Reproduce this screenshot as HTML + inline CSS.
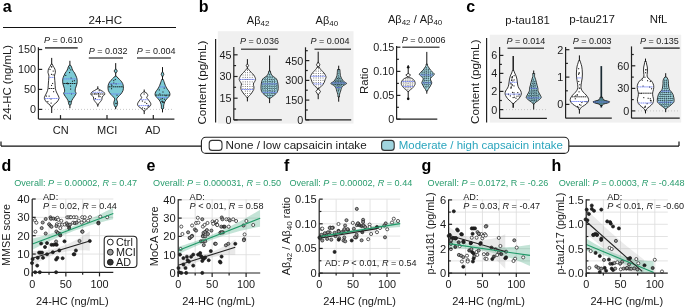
<!DOCTYPE html>
<html><head><meta charset="utf-8"><style>
html,body{margin:0;padding:0;background:#fff;width:685px;height:307px;overflow:hidden}
svg{display:block}
text{font-family:"Liberation Sans",sans-serif}
svg{will-change:transform}
</style></head><body>
<svg width="685" height="307" viewBox="0 0 685 307">
<rect width="685" height="307" fill="#fff"/>
<text x="2.8" y="12.2" font-size="16" text-anchor="start" fill="#000" font-weight="bold">a</text>
<text x="198.8" y="12.4" font-size="16" text-anchor="start" fill="#000" font-weight="bold">b</text>
<text x="466.2" y="12.4" font-size="16" text-anchor="start" fill="#000" font-weight="bold">c</text>
<text x="1.6" y="170.8" font-size="16" text-anchor="start" fill="#000" font-weight="bold">d</text>
<text x="146.4" y="170.8" font-size="16" text-anchor="start" fill="#000" font-weight="bold">e</text>
<text x="283.9" y="170.8" font-size="16" text-anchor="start" fill="#000" font-weight="bold">f</text>
<text x="421.4" y="170.8" font-size="16" text-anchor="start" fill="#000" font-weight="bold">g</text>
<text x="551.4" y="170.8" font-size="16" text-anchor="start" fill="#000" font-weight="bold">h</text>
<rect x="217.8" y="31.2" width="135.7" height="92.4" fill="#f0f0f0"/>
<rect x="489.8" y="34.7" width="191.4" height="87.9" fill="#f0f0f0"/>
<line x1="215.6" y1="39.1" x2="215.6" y2="122.6" stroke="#222" stroke-width="1.2"/>
<line x1="486.6" y1="38.1" x2="486.6" y2="122.6" stroke="#222" stroke-width="1.2"/>
<text x="88.6" y="23.5" font-size="11.6" text-anchor="start" fill="#1a1a1a">24-HC</text>
<line x1="3" y1="27.5" x2="176" y2="27.5" stroke="#111" stroke-width="1.2"/>
<text x="44" y="43.3" font-size="9" text-anchor="start" fill="#1a1a1a"><tspan font-style="italic">P</tspan> = 0.610</text>
<line x1="45" y1="47.9" x2="77.7" y2="47.9" stroke="#555" stroke-width="1.6"/>
<text x="88.8" y="54.3" font-size="9" text-anchor="start" fill="#1a1a1a"><tspan font-style="italic">P</tspan> = 0.032</text>
<line x1="88.8" y1="58" x2="123" y2="58" stroke="#555" stroke-width="1.6"/>
<text x="136.7" y="54.3" font-size="9" text-anchor="start" fill="#1a1a1a"><tspan font-style="italic">P</tspan> = 0.004</text>
<line x1="137" y1="58" x2="170.9" y2="58" stroke="#555" stroke-width="1.6"/>
<line x1="38.4" y1="47.2" x2="38.4" y2="119.1" stroke="#222" stroke-width="1.2"/>
<line x1="38.4" y1="49.5" x2="42.199999999999996" y2="49.5" stroke="#222" stroke-width="1.2"/>
<line x1="38.4" y1="69.4" x2="42.199999999999996" y2="69.4" stroke="#222" stroke-width="1.2"/>
<line x1="38.4" y1="89.4" x2="42.199999999999996" y2="89.4" stroke="#222" stroke-width="1.2"/>
<line x1="38.4" y1="109.4" x2="42.199999999999996" y2="109.4" stroke="#222" stroke-width="1.2"/>
<text x="36.1" y="53.45" font-size="10.8" text-anchor="end" fill="#1a1a1a">150</text>
<text x="36.1" y="73.35000000000001" font-size="10.8" text-anchor="end" fill="#1a1a1a">100</text>
<text x="36.1" y="93.35000000000001" font-size="10.8" text-anchor="end" fill="#1a1a1a">50</text>
<text x="36.1" y="113.35000000000001" font-size="10.8" text-anchor="end" fill="#1a1a1a">0</text>
<line x1="38.4" y1="119.1" x2="174.4" y2="119.1" stroke="#222" stroke-width="1.2"/>
<line x1="60.5" y1="119.1" x2="60.5" y2="115.1" stroke="#222" stroke-width="1.2"/>
<line x1="107" y1="119.1" x2="107" y2="115.1" stroke="#222" stroke-width="1.2"/>
<line x1="153.3" y1="119.1" x2="153.3" y2="115.1" stroke="#222" stroke-width="1.2"/>
<line x1="42" y1="109.4" x2="174" y2="109.4" stroke="#bbb" stroke-width="0.8" stroke-dasharray="1 2"/>
<text x="60.8" y="133.6" font-size="11" text-anchor="middle" fill="#1a1a1a">CN</text>
<text x="107.2" y="133.6" font-size="11" text-anchor="middle" fill="#1a1a1a">MCI</text>
<text x="152.8" y="133.6" font-size="11" text-anchor="middle" fill="#1a1a1a">AD</text>
<text x="11.4" y="120.2" font-size="11.4" text-anchor="start" fill="#1a1a1a" transform="rotate(-90 11.4 120.2)">24-HC (ng/mL)</text>
<text x="246.8" y="23.6" font-size="11" fill="#1a1a1a">Aβ<tspan font-size="8" dy="2">42</tspan></text>
<text x="315.6" y="23.6" font-size="11" fill="#1a1a1a">Aβ<tspan font-size="8" dy="2">40</tspan></text>
<text x="388" y="22.6" font-size="11" fill="#1a1a1a">Aβ<tspan font-size="8" dy="2">42</tspan><tspan dy="-2"> / Aβ</tspan><tspan font-size="8" dy="2">40</tspan></text>
<text x="206.4" y="124.5" font-size="11.6" text-anchor="start" fill="#1a1a1a" transform="rotate(-90 206.4 124.5)">Content (pg/mL)</text>
<text x="478.5" y="124.0" font-size="11.7" text-anchor="start" fill="#1a1a1a" transform="rotate(-90 478.5 124.0)">Content (pg/mL)</text>
<text x="367.6" y="93.9" font-size="11.4" text-anchor="start" fill="#1a1a1a" transform="rotate(-90 367.6 93.9)">Ratio</text>
<text x="240.1" y="44.3" font-size="9" text-anchor="start" fill="#1a1a1a"><tspan font-style="italic">P</tspan> = 0.036</text>
<line x1="241" y1="49.2" x2="277.6" y2="49.2" stroke="#555" stroke-width="1.6"/>
<text x="310.6" y="44.4" font-size="9" text-anchor="start" fill="#1a1a1a"><tspan font-style="italic">P</tspan> = 0.004</text>
<line x1="314.5" y1="49.3" x2="351" y2="49.3" stroke="#555" stroke-width="1.6"/>
<text x="401.8" y="43.4" font-size="9" text-anchor="start" fill="#1a1a1a"><tspan font-style="italic">P</tspan> = 0.0006</text>
<line x1="402.3" y1="47.3" x2="439.5" y2="47.3" stroke="#555" stroke-width="1.6"/>
<line x1="233.8" y1="47.1" x2="233.8" y2="119.9" stroke="#222" stroke-width="1.2"/>
<line x1="233.8" y1="54.8" x2="237.60000000000002" y2="54.8" stroke="#222" stroke-width="1.2"/>
<line x1="233.8" y1="76.5" x2="237.60000000000002" y2="76.5" stroke="#222" stroke-width="1.2"/>
<line x1="233.8" y1="98.2" x2="237.60000000000002" y2="98.2" stroke="#222" stroke-width="1.2"/>
<line x1="233.8" y1="119.9" x2="237.60000000000002" y2="119.9" stroke="#222" stroke-width="1.2"/>
<line x1="233.8" y1="65.6" x2="236.08" y2="65.6" stroke="#222" stroke-width="1.2"/>
<line x1="233.8" y1="87.3" x2="236.08" y2="87.3" stroke="#222" stroke-width="1.2"/>
<line x1="233.8" y1="109" x2="236.08" y2="109" stroke="#222" stroke-width="1.2"/>
<text x="231.5" y="58.75" font-size="10.8" text-anchor="end" fill="#1a1a1a">45</text>
<text x="231.5" y="80.45" font-size="10.8" text-anchor="end" fill="#1a1a1a">30</text>
<text x="231.5" y="102.15" font-size="10.8" text-anchor="end" fill="#1a1a1a">15</text>
<text x="231.5" y="123.85000000000001" font-size="10.8" text-anchor="end" fill="#1a1a1a">0</text>
<line x1="233.8" y1="119.9" x2="281.8" y2="119.9" stroke="#222" stroke-width="1.2"/>
<line x1="305.5" y1="47.3" x2="305.5" y2="119.9" stroke="#222" stroke-width="1.2"/>
<line x1="305.5" y1="60.6" x2="309.3" y2="60.6" stroke="#222" stroke-width="1.2"/>
<line x1="305.5" y1="80.4" x2="309.3" y2="80.4" stroke="#222" stroke-width="1.2"/>
<line x1="305.5" y1="100.1" x2="309.3" y2="100.1" stroke="#222" stroke-width="1.2"/>
<line x1="305.5" y1="119.9" x2="309.3" y2="119.9" stroke="#222" stroke-width="1.2"/>
<line x1="305.5" y1="50.7" x2="307.78" y2="50.7" stroke="#222" stroke-width="1.2"/>
<line x1="305.5" y1="70.5" x2="307.78" y2="70.5" stroke="#222" stroke-width="1.2"/>
<line x1="305.5" y1="90.2" x2="307.78" y2="90.2" stroke="#222" stroke-width="1.2"/>
<line x1="305.5" y1="110" x2="307.78" y2="110" stroke="#222" stroke-width="1.2"/>
<text x="303.2" y="64.55" font-size="10.8" text-anchor="end" fill="#1a1a1a">450</text>
<text x="303.2" y="84.35000000000001" font-size="10.8" text-anchor="end" fill="#1a1a1a">300</text>
<text x="303.2" y="104.05" font-size="10.8" text-anchor="end" fill="#1a1a1a">150</text>
<text x="303.2" y="123.85000000000001" font-size="10.8" text-anchor="end" fill="#1a1a1a">0</text>
<line x1="305.5" y1="119.9" x2="351.2" y2="119.9" stroke="#222" stroke-width="1.2"/>
<line x1="396.6" y1="45.9" x2="396.6" y2="119.2" stroke="#222" stroke-width="1.2"/>
<line x1="396.6" y1="47.2" x2="400.40000000000003" y2="47.2" stroke="#222" stroke-width="1.2"/>
<line x1="396.6" y1="71.4" x2="400.40000000000003" y2="71.4" stroke="#222" stroke-width="1.2"/>
<line x1="396.6" y1="95.4" x2="400.40000000000003" y2="95.4" stroke="#222" stroke-width="1.2"/>
<line x1="396.6" y1="119.2" x2="400.40000000000003" y2="119.2" stroke="#222" stroke-width="1.2"/>
<line x1="396.6" y1="59.3" x2="398.88" y2="59.3" stroke="#222" stroke-width="1.2"/>
<line x1="396.6" y1="83.4" x2="398.88" y2="83.4" stroke="#222" stroke-width="1.2"/>
<line x1="396.6" y1="107.3" x2="398.88" y2="107.3" stroke="#222" stroke-width="1.2"/>
<text x="394.3" y="51.150000000000006" font-size="10.8" text-anchor="end" fill="#1a1a1a">0.15</text>
<text x="394.3" y="75.35000000000001" font-size="10.8" text-anchor="end" fill="#1a1a1a">0.10</text>
<text x="394.3" y="99.35000000000001" font-size="10.8" text-anchor="end" fill="#1a1a1a">0.05</text>
<text x="394.3" y="123.15" font-size="10.8" text-anchor="end" fill="#1a1a1a">0</text>
<line x1="396.6" y1="119.2" x2="437.3" y2="119.2" stroke="#222" stroke-width="1.2"/>
<text x="505.3" y="23.5" font-size="11.3" text-anchor="start" fill="#1a1a1a">p-tau181</text>
<text x="569.2" y="22.9" font-size="11.6" text-anchor="start" fill="#1a1a1a">p-tau217</text>
<text x="649.7" y="22.9" font-size="11.4" text-anchor="start" fill="#1a1a1a">NfL</text>
<text x="506.4" y="44" font-size="9" text-anchor="start" fill="#1a1a1a"><tspan font-style="italic">P</tspan> = 0.014</text>
<line x1="507.5" y1="48.3" x2="544" y2="48.3" stroke="#555" stroke-width="1.6"/>
<text x="572.8" y="44.3" font-size="9" text-anchor="start" fill="#1a1a1a"><tspan font-style="italic">P</tspan> = 0.003</text>
<line x1="573.9" y1="48.1" x2="610.3" y2="48.1" stroke="#555" stroke-width="1.6"/>
<text x="639.9" y="44.3" font-size="9" text-anchor="start" fill="#1a1a1a"><tspan font-style="italic">P</tspan> = 0.135</text>
<line x1="643.3" y1="48.1" x2="679.7" y2="48.1" stroke="#555" stroke-width="1.6"/>
<line x1="499.6" y1="47" x2="499.6" y2="118.4" stroke="#222" stroke-width="1.2"/>
<line x1="499.6" y1="55.4" x2="503.40000000000003" y2="55.4" stroke="#222" stroke-width="1.2"/>
<line x1="499.6" y1="73.4" x2="503.40000000000003" y2="73.4" stroke="#222" stroke-width="1.2"/>
<line x1="499.6" y1="91.4" x2="503.40000000000003" y2="91.4" stroke="#222" stroke-width="1.2"/>
<line x1="499.6" y1="109.6" x2="503.40000000000003" y2="109.6" stroke="#222" stroke-width="1.2"/>
<line x1="499.6" y1="64.4" x2="501.88" y2="64.4" stroke="#222" stroke-width="1.2"/>
<line x1="499.6" y1="82.4" x2="501.88" y2="82.4" stroke="#222" stroke-width="1.2"/>
<line x1="499.6" y1="100.5" x2="501.88" y2="100.5" stroke="#222" stroke-width="1.2"/>
<text x="497.3" y="59.35" font-size="10.8" text-anchor="end" fill="#1a1a1a">6</text>
<text x="497.3" y="77.35000000000001" font-size="10.8" text-anchor="end" fill="#1a1a1a">4</text>
<text x="497.3" y="95.35000000000001" font-size="10.8" text-anchor="end" fill="#1a1a1a">2</text>
<text x="497.3" y="113.55" font-size="10.8" text-anchor="end" fill="#1a1a1a">0</text>
<line x1="499.6" y1="118.4" x2="546.9" y2="118.4" stroke="#222" stroke-width="1.2"/>
<line x1="503" y1="109.6" x2="546" y2="109.6" stroke="#bbb" stroke-width="0.8" stroke-dasharray="1 2"/>
<line x1="565.6" y1="47" x2="565.6" y2="118.2" stroke="#222" stroke-width="1.2"/>
<line x1="565.6" y1="49.7" x2="569.4" y2="49.7" stroke="#222" stroke-width="1.2"/>
<line x1="565.6" y1="77.1" x2="569.4" y2="77.1" stroke="#222" stroke-width="1.2"/>
<line x1="565.6" y1="104.4" x2="569.4" y2="104.4" stroke="#222" stroke-width="1.2"/>
<line x1="565.6" y1="63.4" x2="567.88" y2="63.4" stroke="#222" stroke-width="1.2"/>
<line x1="565.6" y1="90.8" x2="567.88" y2="90.8" stroke="#222" stroke-width="1.2"/>
<text x="563.3000000000001" y="53.650000000000006" font-size="10.8" text-anchor="end" fill="#1a1a1a">2</text>
<text x="563.3000000000001" y="81.05" font-size="10.8" text-anchor="end" fill="#1a1a1a">1</text>
<text x="563.3000000000001" y="108.35000000000001" font-size="10.8" text-anchor="end" fill="#1a1a1a">0</text>
<line x1="565.6" y1="118.2" x2="611.8" y2="118.2" stroke="#222" stroke-width="1.2"/>
<line x1="631.5" y1="46.4" x2="631.5" y2="118.2" stroke="#222" stroke-width="1.2"/>
<line x1="631.5" y1="65.8" x2="635.3" y2="65.8" stroke="#222" stroke-width="1.2"/>
<line x1="631.5" y1="88.4" x2="635.3" y2="88.4" stroke="#222" stroke-width="1.2"/>
<line x1="631.5" y1="110.9" x2="635.3" y2="110.9" stroke="#222" stroke-width="1.2"/>
<line x1="631.5" y1="54.5" x2="633.78" y2="54.5" stroke="#222" stroke-width="1.2"/>
<line x1="631.5" y1="77.1" x2="633.78" y2="77.1" stroke="#222" stroke-width="1.2"/>
<line x1="631.5" y1="99.6" x2="633.78" y2="99.6" stroke="#222" stroke-width="1.2"/>
<text x="629.2" y="69.75" font-size="10.8" text-anchor="end" fill="#1a1a1a">60</text>
<text x="629.2" y="92.35000000000001" font-size="10.8" text-anchor="end" fill="#1a1a1a">30</text>
<text x="629.2" y="114.85000000000001" font-size="10.8" text-anchor="end" fill="#1a1a1a">0</text>
<line x1="631.5" y1="118.2" x2="679.7" y2="118.2" stroke="#222" stroke-width="1.2"/>
<line x1="635" y1="110.9" x2="679" y2="110.9" stroke="#bbb" stroke-width="0.8" stroke-dasharray="1 2"/>
<line x1="1" y1="146.1" x2="201.4" y2="146.1" stroke="#111" stroke-width="1.2"/>
<line x1="1" y1="141.6" x2="1" y2="146.1" stroke="#111" stroke-width="1.2"/>
<line x1="568.8" y1="146.1" x2="679" y2="146.1" stroke="#111" stroke-width="1.2"/>
<line x1="679" y1="141.6" x2="679" y2="146.1" stroke="#111" stroke-width="1.2"/>
<rect x="201.4" y="137.2" width="367.4" height="16.2" rx="4.5" fill="#fff" stroke="#222" stroke-width="1.1"/>
<rect x="209.2" y="140.4" width="12.8" height="10" rx="3" fill="#fff" stroke="#333" stroke-width="1.1"/>
<rect x="381.6" y="140.4" width="12.6" height="10" rx="3" fill="#a0d4de" stroke="#333" stroke-width="1.1"/>
<text x="225.6" y="149.4" font-size="11.65" text-anchor="start" fill="#1a1a1a">None / low capsaicin intake</text>
<text x="398.8" y="149.4" font-size="11.45" text-anchor="start" fill="#2aa5bd">Moderate / high capsaicin intake</text>
<line x1="51.7" y1="57.9" x2="51.7" y2="64.7" stroke="#111" stroke-width="1.0"/>
<line x1="51.7" y1="106.5" x2="51.7" y2="113" stroke="#111" stroke-width="1.0"/>
<path d="M52.30,64.20 C52.45,64.53 52.77,65.38 53.20,66.20 C53.63,67.02 54.53,68.05 54.90,69.10 C55.27,70.15 55.45,71.52 55.40,72.50 C55.35,73.48 54.73,74.08 54.60,75.00 C54.47,75.92 54.53,76.67 54.60,78.00 C54.67,79.33 54.87,81.25 55.00,83.00 C55.13,84.75 55.17,87.00 55.40,88.50 C55.63,90.00 55.90,90.75 56.40,92.00 C56.90,93.25 57.97,94.92 58.40,96.00 C58.83,97.08 59.23,97.50 59.00,98.50 C58.77,99.50 57.93,100.92 57.00,102.00 C56.07,103.08 54.17,104.17 53.40,105.00 C52.63,105.83 52.57,106.67 52.40,107.00 L51.00,107.00 C50.83,106.67 50.77,105.83 50.00,105.00 C49.23,104.17 47.33,103.08 46.40,102.00 C45.47,100.92 44.63,99.50 44.40,98.50 C44.17,97.50 44.57,97.08 45.00,96.00 C45.43,94.92 46.50,93.25 47.00,92.00 C47.50,90.75 47.77,90.00 48.00,88.50 C48.23,87.00 48.27,84.75 48.40,83.00 C48.53,81.25 48.73,79.33 48.80,78.00 C48.87,76.67 48.93,75.92 48.80,75.00 C48.67,74.08 48.05,73.48 48.00,72.50 C47.95,71.52 48.13,70.15 48.50,69.10 C48.87,68.05 49.77,67.02 50.20,66.20 C50.63,65.38 50.95,64.53 51.10,64.20Z" fill="#fff" stroke="#111" stroke-width="0.85"/>
<rect x="52.65" y="70.55" width="1.1" height="1.1" fill="#222"/>
<rect x="48.59" y="95.60" width="1.1" height="1.1" fill="#222"/>
<rect x="50.99" y="84.92" width="1.1" height="1.1" fill="#222"/>
<rect x="53.05" y="91.13" width="1.1" height="1.1" fill="#222"/>
<rect x="49.46" y="68.94" width="1.1" height="1.1" fill="#222"/>
<rect x="50.44" y="98.46" width="1.1" height="1.1" fill="#222"/>
<rect x="45.91" y="95.54" width="1.1" height="1.1" fill="#222"/>
<rect x="52.06" y="82.93" width="1.1" height="1.1" fill="#222"/>
<rect x="52.59" y="74.30" width="1.1" height="1.1" fill="#222"/>
<rect x="47.31" y="101.08" width="1.1" height="1.1" fill="#222"/>
<rect x="51.23" y="66.21" width="1.1" height="1.1" fill="#222"/>
<rect x="50.58" y="102.58" width="1.1" height="1.1" fill="#222"/>
<rect x="50.93" y="73.82" width="1.1" height="1.1" fill="#222"/>
<rect x="50.93" y="66.36" width="1.1" height="1.1" fill="#222"/>
<line x1="49.300000000000004" y1="77.4" x2="54.1" y2="77.4" stroke="#6b7cf5" stroke-width="0.85" stroke-dasharray="1.6 0.5"/>
<line x1="44.900000000000006" y1="98.5" x2="58.5" y2="98.5" stroke="#6b7cf5" stroke-width="0.85" stroke-dasharray="1.6 0.5"/>
<line x1="48.5" y1="88.5" x2="54.900000000000006" y2="88.5" stroke="#111" stroke-width="0.9" stroke-dasharray="1.6 0.5"/>
<line x1="69.9" y1="60.8" x2="69.9" y2="65.7" stroke="#111" stroke-width="1.0"/>
<line x1="69.9" y1="104.5" x2="69.9" y2="108.2" stroke="#111" stroke-width="1.0"/>
<path d="M70.50,65.20 C70.68,65.52 71.25,66.28 71.60,67.10 C71.95,67.92 72.10,69.12 72.60,70.10 C73.10,71.08 74.03,72.02 74.60,73.00 C75.17,73.98 75.60,75.00 76.00,76.00 C76.40,77.00 76.83,77.75 77.00,79.00 C77.17,80.25 77.25,81.95 77.00,83.50 C76.75,85.05 75.80,87.00 75.50,88.30 C75.20,89.60 75.10,90.45 75.20,91.30 C75.30,92.15 76.25,92.50 76.10,93.40 C75.95,94.30 75.00,95.55 74.30,96.70 C73.60,97.85 72.43,99.10 71.90,100.30 C71.37,101.50 71.33,103.12 71.10,103.90 C70.87,104.68 70.60,104.82 70.50,105.00 L69.30,105.00 C69.20,104.82 68.93,104.68 68.70,103.90 C68.47,103.12 68.43,101.50 67.90,100.30 C67.37,99.10 66.20,97.85 65.50,96.70 C64.80,95.55 63.85,94.30 63.70,93.40 C63.55,92.50 64.50,92.15 64.60,91.30 C64.70,90.45 64.60,89.60 64.30,88.30 C64.00,87.00 63.05,85.05 62.80,83.50 C62.55,81.95 62.63,80.25 62.80,79.00 C62.97,77.75 63.40,77.00 63.80,76.00 C64.20,75.00 64.63,73.98 65.20,73.00 C65.77,72.02 66.70,71.08 67.20,70.10 C67.70,69.12 67.85,67.92 68.20,67.10 C68.55,66.28 69.12,65.52 69.30,65.20Z" fill="#7ccad5" stroke="#111" stroke-width="0.85"/>
<rect x="69.12" y="101.08" width="1.1" height="1.1" fill="#222"/>
<rect x="70.21" y="69.32" width="1.1" height="1.1" fill="#222"/>
<rect x="70.96" y="93.28" width="1.1" height="1.1" fill="#222"/>
<rect x="70.54" y="77.54" width="1.1" height="1.1" fill="#222"/>
<rect x="70.07" y="88.53" width="1.1" height="1.1" fill="#222"/>
<rect x="68.99" y="72.03" width="1.1" height="1.1" fill="#222"/>
<rect x="71.94" y="80.68" width="1.1" height="1.1" fill="#222"/>
<rect x="69.43" y="101.14" width="1.1" height="1.1" fill="#222"/>
<rect x="66.76" y="82.57" width="1.1" height="1.1" fill="#222"/>
<rect x="68.83" y="67.52" width="1.1" height="1.1" fill="#222"/>
<rect x="67.37" y="83.31" width="1.1" height="1.1" fill="#222"/>
<rect x="73.87" y="80.18" width="1.1" height="1.1" fill="#222"/>
<rect x="69.99" y="85.55" width="1.1" height="1.1" fill="#222"/>
<rect x="65.20" y="74.89" width="1.1" height="1.1" fill="#222"/>
<line x1="63.333333333333336" y1="78.9" x2="76.46666666666667" y2="78.9" stroke="#6b7cf5" stroke-width="0.85" stroke-dasharray="1.6 0.5"/>
<line x1="64.2" y1="93.4" x2="75.60000000000001" y2="93.4" stroke="#6b7cf5" stroke-width="0.85" stroke-dasharray="1.6 0.5"/>
<line x1="63.300000000000004" y1="83.5" x2="76.5" y2="83.5" stroke="#111" stroke-width="0.9" stroke-dasharray="1.6 0.5"/>
<line x1="97.8" y1="86.3" x2="97.8" y2="89.4" stroke="#111" stroke-width="1.0"/>
<line x1="97.8" y1="104.5" x2="97.8" y2="106.7" stroke="#111" stroke-width="1.0"/>
<path d="M98.40,88.90 C98.85,89.17 100.25,90.00 101.10,90.50 C101.95,91.00 102.90,91.40 103.50,91.90 C104.10,92.40 104.57,92.98 104.70,93.50 C104.83,94.02 104.72,94.45 104.30,95.00 C103.88,95.55 102.60,96.07 102.20,96.80 C101.80,97.53 102.18,98.60 101.90,99.40 C101.62,100.20 101.05,100.87 100.50,101.60 C99.95,102.33 98.95,103.23 98.60,103.80 C98.25,104.37 98.43,104.80 98.40,105.00 L97.20,105.00 C97.17,104.80 97.35,104.37 97.00,103.80 C96.65,103.23 95.65,102.33 95.10,101.60 C94.55,100.87 93.98,100.20 93.70,99.40 C93.42,98.60 93.80,97.53 93.40,96.80 C93.00,96.07 91.72,95.55 91.30,95.00 C90.88,94.45 90.77,94.02 90.90,93.50 C91.03,92.98 91.50,92.40 92.10,91.90 C92.70,91.40 93.65,91.00 94.50,90.50 C95.35,90.00 96.75,89.17 97.20,88.90Z" fill="#fff" stroke="#111" stroke-width="0.85"/>
<rect x="97.79" y="93.02" width="1.1" height="1.1" fill="#222"/>
<rect x="98.30" y="94.75" width="1.1" height="1.1" fill="#222"/>
<rect x="94.87" y="98.10" width="1.1" height="1.1" fill="#222"/>
<rect x="98.67" y="90.07" width="1.1" height="1.1" fill="#222"/>
<rect x="94.42" y="93.30" width="1.1" height="1.1" fill="#222"/>
<rect x="99.51" y="96.06" width="1.1" height="1.1" fill="#222"/>
<rect x="98.19" y="96.14" width="1.1" height="1.1" fill="#222"/>
<line x1="92.3" y1="92.3" x2="103.3" y2="92.3" stroke="#6b7cf5" stroke-width="0.85" stroke-dasharray="1.6 0.5"/>
<line x1="94.32727272727271" y1="99.6" x2="101.27272727272728" y2="99.6" stroke="#6b7cf5" stroke-width="0.85" stroke-dasharray="1.6 0.5"/>
<line x1="91.53333333333333" y1="94" x2="104.06666666666666" y2="94" stroke="#111" stroke-width="0.9" stroke-dasharray="1.6 0.5"/>
<line x1="115.7" y1="63.1" x2="115.7" y2="76.6" stroke="#111" stroke-width="1.0"/>
<line x1="115.7" y1="106.5" x2="115.7" y2="109.2" stroke="#111" stroke-width="1.0"/>
<path d="M115.7,68.8 L117.4,71 L115.7,73.3 L114.0,71Z" fill="#7ccad5" stroke="#111" stroke-width="0.8" stroke-linejoin="round"/>
<path d="M116.30,76.10 C116.58,76.42 117.30,77.28 118.00,78.00 C118.70,78.72 119.73,79.50 120.50,80.40 C121.27,81.30 122.12,82.33 122.60,83.40 C123.08,84.47 123.33,85.60 123.40,86.80 C123.47,88.00 123.42,89.40 123.00,90.60 C122.58,91.80 121.73,92.93 120.90,94.00 C120.07,95.07 118.72,96.17 118.00,97.00 C117.28,97.83 116.73,98.33 116.60,99.00 C116.47,99.67 117.03,100.28 117.20,101.00 C117.37,101.72 117.62,102.55 117.60,103.30 C117.58,104.05 117.32,104.88 117.10,105.50 C116.88,106.12 116.43,106.75 116.30,107.00 L115.10,107.00 C114.97,106.75 114.52,106.12 114.30,105.50 C114.08,104.88 113.82,104.05 113.80,103.30 C113.78,102.55 114.03,101.72 114.20,101.00 C114.37,100.28 114.93,99.67 114.80,99.00 C114.67,98.33 114.12,97.83 113.40,97.00 C112.68,96.17 111.33,95.07 110.50,94.00 C109.67,92.93 108.82,91.80 108.40,90.60 C107.98,89.40 107.93,88.00 108.00,86.80 C108.07,85.60 108.32,84.47 108.80,83.40 C109.28,82.33 110.13,81.30 110.90,80.40 C111.67,79.50 112.70,78.72 113.40,78.00 C114.10,77.28 114.82,76.42 115.10,76.10Z" fill="#7ccad5" stroke="#111" stroke-width="0.85"/>
<rect x="110.69" y="83.69" width="1.1" height="1.1" fill="#222"/>
<rect x="110.99" y="88.15" width="1.1" height="1.1" fill="#222"/>
<rect x="114.72" y="78.96" width="1.1" height="1.1" fill="#222"/>
<rect x="115.49" y="102.71" width="1.1" height="1.1" fill="#222"/>
<rect x="115.61" y="83.29" width="1.1" height="1.1" fill="#222"/>
<rect x="111.30" y="84.82" width="1.1" height="1.1" fill="#222"/>
<rect x="113.19" y="80.06" width="1.1" height="1.1" fill="#222"/>
<rect x="115.50" y="102.98" width="1.1" height="1.1" fill="#222"/>
<rect x="113.22" y="82.50" width="1.1" height="1.1" fill="#222"/>
<rect x="116.47" y="94.59" width="1.1" height="1.1" fill="#222"/>
<line x1="109.20588235294119" y1="83.8" x2="122.19411764705882" y2="83.8" stroke="#6b7cf5" stroke-width="0.85" stroke-dasharray="1.6 0.5"/>
<line x1="111.0" y1="94" x2="120.4" y2="94" stroke="#6b7cf5" stroke-width="0.85" stroke-dasharray="1.6 0.5"/>
<line x1="108.5" y1="86.8" x2="122.9" y2="86.8" stroke="#111" stroke-width="0.9" stroke-dasharray="1.6 0.5"/>
<line x1="144.2" y1="89.5" x2="144.2" y2="92.5" stroke="#111" stroke-width="1.0"/>
<line x1="144.2" y1="110.5" x2="144.2" y2="114.1" stroke="#111" stroke-width="1.0"/>
<path d="M144.80,92.00 C145.17,92.25 146.50,92.90 147.00,93.50 C147.50,94.10 147.85,94.92 147.80,95.60 C147.75,96.28 146.62,96.92 146.70,97.60 C146.78,98.28 147.73,98.93 148.30,99.70 C148.87,100.47 149.67,101.45 150.10,102.20 C150.53,102.95 150.93,103.50 150.90,104.20 C150.87,104.90 150.55,105.68 149.90,106.40 C149.25,107.12 147.75,107.90 147.00,108.50 C146.25,109.10 145.77,109.58 145.40,110.00 C145.03,110.42 144.90,110.83 144.80,111.00 L143.60,111.00 C143.50,110.83 143.37,110.42 143.00,110.00 C142.63,109.58 142.15,109.10 141.40,108.50 C140.65,107.90 139.15,107.12 138.50,106.40 C137.85,105.68 137.53,104.90 137.50,104.20 C137.47,103.50 137.87,102.95 138.30,102.20 C138.73,101.45 139.53,100.47 140.10,99.70 C140.67,98.93 141.62,98.28 141.70,97.60 C141.78,96.92 140.65,96.28 140.60,95.60 C140.55,94.92 140.90,94.10 141.40,93.50 C141.90,92.90 143.23,92.25 143.60,92.00Z" fill="#fff" stroke="#111" stroke-width="0.85"/>
<rect x="146.12" y="102.97" width="1.1" height="1.1" fill="#222"/>
<rect x="147.58" y="105.72" width="1.1" height="1.1" fill="#222"/>
<rect x="147.74" y="104.84" width="1.1" height="1.1" fill="#222"/>
<rect x="143.59" y="93.46" width="1.1" height="1.1" fill="#222"/>
<rect x="144.09" y="108.09" width="1.1" height="1.1" fill="#222"/>
<rect x="141.99" y="107.41" width="1.1" height="1.1" fill="#222"/>
<rect x="141.86" y="100.51" width="1.1" height="1.1" fill="#222"/>
<rect x="144.37" y="101.70" width="1.1" height="1.1" fill="#222"/>
<line x1="140.6" y1="99.7" x2="147.79999999999998" y2="99.7" stroke="#6b7cf5" stroke-width="0.85" stroke-dasharray="1.6 0.5"/>
<line x1="138.63636363636363" y1="105.6" x2="149.76363636363635" y2="105.6" stroke="#6b7cf5" stroke-width="0.85" stroke-dasharray="1.6 0.5"/>
<line x1="162.5" y1="67.1" x2="162.5" y2="80.0" stroke="#111" stroke-width="1.0"/>
<line x1="162.5" y1="108.5" x2="162.5" y2="112.4" stroke="#111" stroke-width="1.0"/>
<path d="M162.5,71.4 L163.9,74.2 L162.5,77 L161.1,74.2Z" fill="#7ccad5" stroke="#111" stroke-width="0.8" stroke-linejoin="round"/>
<path d="M163.30,79.50 C163.55,80.25 164.35,82.77 164.80,84.00 C165.25,85.23 165.58,86.05 166.00,86.90 C166.42,87.75 166.73,88.25 167.30,89.10 C167.87,89.95 168.97,91.00 169.40,92.00 C169.83,93.00 170.10,94.20 169.90,95.10 C169.70,96.00 168.88,96.58 168.20,97.40 C167.52,98.22 166.45,99.07 165.80,100.00 C165.15,100.93 164.67,101.98 164.30,103.00 C163.93,104.02 163.70,105.27 163.60,106.10 C163.50,106.93 163.78,107.52 163.70,108.00 C163.62,108.48 163.20,108.83 163.10,109.00 L161.90,109.00 C161.80,108.83 161.38,108.48 161.30,108.00 C161.22,107.52 161.50,106.93 161.40,106.10 C161.30,105.27 161.07,104.02 160.70,103.00 C160.33,101.98 159.85,100.93 159.20,100.00 C158.55,99.07 157.48,98.22 156.80,97.40 C156.12,96.58 155.30,96.00 155.10,95.10 C154.90,94.20 155.17,93.00 155.60,92.00 C156.03,91.00 157.13,89.95 157.70,89.10 C158.27,88.25 158.58,87.75 159.00,86.90 C159.42,86.05 159.75,85.23 160.20,84.00 C160.65,82.77 161.45,80.25 161.70,79.50Z" fill="#7ccad5" stroke="#111" stroke-width="0.85"/>
<rect x="162.57" y="101.52" width="1.1" height="1.1" fill="#222"/>
<rect x="159.24" y="93.35" width="1.1" height="1.1" fill="#222"/>
<rect x="161.81" y="98.06" width="1.1" height="1.1" fill="#222"/>
<rect x="161.66" y="100.63" width="1.1" height="1.1" fill="#222"/>
<rect x="161.46" y="100.91" width="1.1" height="1.1" fill="#222"/>
<rect x="162.36" y="101.75" width="1.1" height="1.1" fill="#222"/>
<rect x="162.42" y="91.47" width="1.1" height="1.1" fill="#222"/>
<rect x="160.31" y="98.57" width="1.1" height="1.1" fill="#222"/>
<rect x="165.40" y="95.17" width="1.1" height="1.1" fill="#222"/>
<rect x="163.68" y="87.54" width="1.1" height="1.1" fill="#222"/>
<rect x="163.84" y="98.67" width="1.1" height="1.1" fill="#222"/>
<rect x="158.77" y="89.39" width="1.1" height="1.1" fill="#222"/>
<rect x="162.49" y="101.71" width="1.1" height="1.1" fill="#222"/>
<line x1="159.5" y1="86.9" x2="165.5" y2="86.9" stroke="#6b7cf5" stroke-width="0.85" stroke-dasharray="1.6 0.5"/>
<line x1="157.3" y1="97.4" x2="167.7" y2="97.4" stroke="#6b7cf5" stroke-width="0.85" stroke-dasharray="1.6 0.5"/>
<line x1="155.6" y1="95.1" x2="169.4" y2="95.1" stroke="#111" stroke-width="0.9" stroke-dasharray="1.6 0.5"/>
<line x1="247.4" y1="59.1" x2="247.4" y2="69.3" stroke="#111" stroke-width="1.0"/>
<line x1="247.4" y1="97.0" x2="247.4" y2="101.4" stroke="#111" stroke-width="1.0"/>
<path d="M247.4,63.8 L248.6,65.6 L247.4,67.4 L246.20000000000002,65.6Z" fill="#fff" stroke="#111" stroke-width="0.8" stroke-linejoin="round"/>
<path d="M248.20,68.80 C248.42,69.08 248.98,69.88 249.50,70.50 C250.02,71.12 250.60,71.75 251.30,72.50 C252.00,73.25 253.07,74.17 253.70,75.00 C254.33,75.83 254.78,76.77 255.10,77.50 C255.42,78.23 255.67,78.73 255.60,79.40 C255.53,80.07 255.08,80.73 254.70,81.50 C254.32,82.27 253.43,83.12 253.30,84.00 C253.17,84.88 253.83,85.88 253.90,86.80 C253.97,87.72 253.97,88.63 253.70,89.50 C253.43,90.37 252.83,91.15 252.30,92.00 C251.77,92.85 251.13,93.85 250.50,94.60 C249.87,95.35 248.92,96.02 248.50,96.50 C248.08,96.98 248.08,97.33 248.00,97.50 L246.80,97.50 C246.72,97.33 246.72,96.98 246.30,96.50 C245.88,96.02 244.93,95.35 244.30,94.60 C243.67,93.85 243.03,92.85 242.50,92.00 C241.97,91.15 241.37,90.37 241.10,89.50 C240.83,88.63 240.83,87.72 240.90,86.80 C240.97,85.88 241.63,84.88 241.50,84.00 C241.37,83.12 240.48,82.27 240.10,81.50 C239.72,80.73 239.27,80.07 239.20,79.40 C239.13,78.73 239.38,78.23 239.70,77.50 C240.02,76.77 240.47,75.83 241.10,75.00 C241.73,74.17 242.80,73.25 243.50,72.50 C244.20,71.75 244.78,71.12 245.30,70.50 C245.82,69.88 246.38,69.08 246.60,68.80Z" fill="#fff" stroke="#111" stroke-width="0.85"/>
<rect x="247.20" y="70.00" width="0.8" height="0.8" fill="#333"/>
<rect x="244.90" y="72.30" width="0.8" height="0.8" fill="#333"/>
<rect x="247.20" y="72.30" width="0.8" height="0.8" fill="#333"/>
<rect x="249.50" y="72.30" width="0.8" height="0.8" fill="#333"/>
<rect x="242.60" y="74.60" width="0.8" height="0.8" fill="#333"/>
<rect x="244.90" y="74.60" width="0.8" height="0.8" fill="#333"/>
<rect x="247.20" y="74.60" width="0.8" height="0.8" fill="#333"/>
<rect x="249.50" y="74.60" width="0.8" height="0.8" fill="#333"/>
<rect x="251.80" y="74.60" width="0.8" height="0.8" fill="#333"/>
<rect x="242.60" y="76.90" width="0.8" height="0.8" fill="#333"/>
<rect x="244.90" y="76.90" width="0.8" height="0.8" fill="#333"/>
<rect x="247.20" y="76.90" width="0.8" height="0.8" fill="#333"/>
<rect x="249.50" y="76.90" width="0.8" height="0.8" fill="#333"/>
<rect x="251.80" y="76.90" width="0.8" height="0.8" fill="#333"/>
<rect x="240.30" y="79.20" width="0.8" height="0.8" fill="#333"/>
<rect x="242.60" y="79.20" width="0.8" height="0.8" fill="#333"/>
<rect x="244.90" y="79.20" width="0.8" height="0.8" fill="#333"/>
<rect x="247.20" y="79.20" width="0.8" height="0.8" fill="#333"/>
<rect x="249.50" y="79.20" width="0.8" height="0.8" fill="#333"/>
<rect x="251.80" y="79.20" width="0.8" height="0.8" fill="#333"/>
<rect x="242.60" y="81.50" width="0.8" height="0.8" fill="#333"/>
<rect x="244.90" y="81.50" width="0.8" height="0.8" fill="#333"/>
<rect x="247.20" y="81.50" width="0.8" height="0.8" fill="#333"/>
<rect x="249.50" y="81.50" width="0.8" height="0.8" fill="#333"/>
<rect x="251.80" y="81.50" width="0.8" height="0.8" fill="#333"/>
<rect x="242.60" y="83.80" width="0.8" height="0.8" fill="#333"/>
<rect x="244.90" y="83.80" width="0.8" height="0.8" fill="#333"/>
<rect x="247.20" y="83.80" width="0.8" height="0.8" fill="#333"/>
<rect x="249.50" y="83.80" width="0.8" height="0.8" fill="#333"/>
<rect x="242.60" y="86.10" width="0.8" height="0.8" fill="#333"/>
<rect x="244.90" y="86.10" width="0.8" height="0.8" fill="#333"/>
<rect x="247.20" y="86.10" width="0.8" height="0.8" fill="#333"/>
<rect x="249.50" y="86.10" width="0.8" height="0.8" fill="#333"/>
<rect x="251.80" y="86.10" width="0.8" height="0.8" fill="#333"/>
<rect x="242.60" y="88.40" width="0.8" height="0.8" fill="#333"/>
<rect x="244.90" y="88.40" width="0.8" height="0.8" fill="#333"/>
<rect x="247.20" y="88.40" width="0.8" height="0.8" fill="#333"/>
<rect x="249.50" y="88.40" width="0.8" height="0.8" fill="#333"/>
<rect x="251.80" y="88.40" width="0.8" height="0.8" fill="#333"/>
<rect x="244.90" y="90.70" width="0.8" height="0.8" fill="#333"/>
<rect x="247.20" y="90.70" width="0.8" height="0.8" fill="#333"/>
<rect x="249.50" y="90.70" width="0.8" height="0.8" fill="#333"/>
<rect x="244.90" y="93.00" width="0.8" height="0.8" fill="#333"/>
<rect x="247.20" y="93.00" width="0.8" height="0.8" fill="#333"/>
<rect x="249.50" y="93.00" width="0.8" height="0.8" fill="#333"/>
<rect x="247.20" y="95.30" width="0.8" height="0.8" fill="#333"/>
<line x1="239.70000000000002" y1="79.4" x2="255.1" y2="79.4" stroke="#6b7cf5" stroke-width="0.85" stroke-dasharray="1.6 0.5"/>
<line x1="241.6" y1="89.5" x2="253.20000000000002" y2="89.5" stroke="#6b7cf5" stroke-width="0.85" stroke-dasharray="1.6 0.5"/>
<line x1="269.6" y1="55.5" x2="269.6" y2="71.5" stroke="#111" stroke-width="1.0"/>
<line x1="269.6" y1="97.5" x2="269.6" y2="103.1" stroke="#111" stroke-width="1.0"/>
<path d="M270.40,71.00 C270.45,71.33 270.50,72.33 270.70,73.00 C270.90,73.67 271.20,74.42 271.60,75.00 C272.00,75.58 272.45,76.00 273.10,76.50 C273.75,77.00 274.85,77.42 275.50,78.00 C276.15,78.58 276.62,79.17 277.00,80.00 C277.38,80.83 277.60,81.83 277.80,83.00 C278.00,84.17 278.17,85.83 278.20,87.00 C278.23,88.17 278.20,89.08 278.00,90.00 C277.80,90.92 277.48,91.75 277.00,92.50 C276.52,93.25 275.82,93.83 275.10,94.50 C274.38,95.17 273.42,95.92 272.70,96.50 C271.98,97.08 271.12,97.75 270.80,98.00 L268.40,98.00 C268.08,97.75 267.22,97.08 266.50,96.50 C265.78,95.92 264.82,95.17 264.10,94.50 C263.38,93.83 262.68,93.25 262.20,92.50 C261.72,91.75 261.40,90.92 261.20,90.00 C261.00,89.08 260.97,88.17 261.00,87.00 C261.03,85.83 261.20,84.17 261.40,83.00 C261.60,81.83 261.82,80.83 262.20,80.00 C262.58,79.17 263.05,78.58 263.70,78.00 C264.35,77.42 265.45,77.00 266.10,76.50 C266.75,76.00 267.20,75.58 267.60,75.00 C268.00,74.42 268.30,73.67 268.50,73.00 C268.70,72.33 268.75,71.33 268.80,71.00Z" fill="#a8dce4" stroke="#111" stroke-width="0.85"/>
<line x1="268.79" y1="74.8" x2="270.41" y2="74.8" stroke="#10202a" stroke-width="0.65" stroke-dasharray="1.2 0.6" opacity="0.95"/>
<line x1="266.24" y1="77.1" x2="272.96000000000004" y2="77.1" stroke="#10202a" stroke-width="0.65" stroke-dasharray="1.2 0.6" opacity="0.95"/>
<line x1="263.75000000000006" y1="79.39999999999999" x2="275.45" y2="79.39999999999999" stroke="#10202a" stroke-width="0.65" stroke-dasharray="1.2 0.6" opacity="0.95"/>
<line x1="262.8466666666667" y1="81.69999999999999" x2="276.35333333333335" y2="81.69999999999999" stroke="#10202a" stroke-width="0.65" stroke-dasharray="1.2 0.6" opacity="0.95"/>
<line x1="262.40000000000003" y1="83.99999999999999" x2="276.8" y2="83.99999999999999" stroke="#10202a" stroke-width="0.65" stroke-dasharray="1.2 0.6" opacity="0.95"/>
<line x1="262.17" y1="86.29999999999998" x2="277.03000000000003" y2="86.29999999999998" stroke="#10202a" stroke-width="0.65" stroke-dasharray="1.2 0.6" opacity="0.95"/>
<line x1="262.2066666666667" y1="88.59999999999998" x2="276.99333333333334" y2="88.59999999999998" stroke="#10202a" stroke-width="0.65" stroke-dasharray="1.2 0.6" opacity="0.95"/>
<line x1="262.66" y1="90.89999999999998" x2="276.54" y2="90.89999999999998" stroke="#10202a" stroke-width="0.65" stroke-dasharray="1.2 0.6" opacity="0.95"/>
<line x1="263.965" y1="93.19999999999997" x2="275.23500000000007" y2="93.19999999999997" stroke="#10202a" stroke-width="0.65" stroke-dasharray="1.2 0.6" opacity="0.95"/>
<line x1="266.4" y1="95.49999999999997" x2="272.80000000000007" y2="95.49999999999997" stroke="#10202a" stroke-width="0.65" stroke-dasharray="1.2 0.6" opacity="0.95"/>
<line x1="262.90000000000003" y1="81.80000000000015" x2="262.90000000000003" y2="91.40000000000029" stroke="#10202a" stroke-width="0.65" stroke-dasharray="1.2 0.6" opacity="0.95"/>
<line x1="265.20000000000005" y1="77.8000000000001" x2="265.20000000000005" y2="94.20000000000033" stroke="#10202a" stroke-width="0.65" stroke-dasharray="1.2 0.6" opacity="0.95"/>
<line x1="267.5" y1="76.20000000000007" x2="267.5" y2="96.20000000000036" stroke="#10202a" stroke-width="0.65" stroke-dasharray="1.2 0.6" opacity="0.95"/>
<line x1="269.8" y1="73.80000000000004" x2="269.8" y2="97.80000000000038" stroke="#10202a" stroke-width="0.65" stroke-dasharray="1.2 0.6" opacity="0.95"/>
<line x1="272.1" y1="76.60000000000008" x2="272.1" y2="95.80000000000035" stroke="#10202a" stroke-width="0.65" stroke-dasharray="1.2 0.6" opacity="0.95"/>
<line x1="274.40000000000003" y1="78.2000000000001" x2="274.40000000000003" y2="93.80000000000032" stroke="#10202a" stroke-width="0.65" stroke-dasharray="1.2 0.6" opacity="0.95"/>
<line x1="276.70000000000005" y1="83.00000000000017" x2="276.70000000000005" y2="90.20000000000027" stroke="#10202a" stroke-width="0.65" stroke-dasharray="1.2 0.6" opacity="0.95"/>
<line x1="261.81" y1="83.9" x2="277.39000000000004" y2="83.9" stroke="#6b7cf5" stroke-width="0.85" stroke-dasharray="1.6 0.5"/>
<line x1="262.66" y1="92.4" x2="276.54" y2="92.4" stroke="#6b7cf5" stroke-width="0.85" stroke-dasharray="1.6 0.5"/>
<line x1="318.2" y1="51.7" x2="318.2" y2="67.7" stroke="#111" stroke-width="1.0"/>
<line x1="318.2" y1="88.1" x2="318.2" y2="99.2" stroke="#111" stroke-width="1.0"/>
<path d="M318.2,61.9 L320.0,64.9 L318.2,67.2 L316.4,64.9Z" fill="#fff" stroke="#111" stroke-width="0.8" stroke-linejoin="round"/>
<path d="M318.2,88.6 L320.5,91.5 L318.2,94.9 L315.9,91.5Z" fill="#fff" stroke="#111" stroke-width="0.8" stroke-linejoin="round"/>
<path d="M319.40,67.20 C319.50,67.43 319.65,68.08 320.00,68.60 C320.35,69.12 320.85,69.58 321.50,70.30 C322.15,71.02 323.23,72.05 323.90,72.90 C324.57,73.75 325.15,74.63 325.50,75.40 C325.85,76.17 326.07,76.78 326.00,77.50 C325.93,78.22 325.38,78.92 325.10,79.70 C324.82,80.48 324.65,81.42 324.30,82.20 C323.95,82.98 323.50,83.70 323.00,84.40 C322.50,85.10 321.88,85.87 321.30,86.40 C320.72,86.93 319.87,87.23 319.50,87.60 C319.13,87.97 319.17,88.43 319.10,88.60 L317.30,88.60 C317.23,88.43 317.27,87.97 316.90,87.60 C316.53,87.23 315.68,86.93 315.10,86.40 C314.52,85.87 313.90,85.10 313.40,84.40 C312.90,83.70 312.45,82.98 312.10,82.20 C311.75,81.42 311.58,80.48 311.30,79.70 C311.02,78.92 310.47,78.22 310.40,77.50 C310.33,76.78 310.55,76.17 310.90,75.40 C311.25,74.63 311.83,73.75 312.50,72.90 C313.17,72.05 314.25,71.02 314.90,70.30 C315.55,69.58 316.05,69.12 316.40,68.60 C316.75,68.08 316.90,67.43 317.00,67.20Z" fill="#fff" stroke="#111" stroke-width="0.85"/>
<rect x="318.00" y="68.40" width="0.8" height="0.8" fill="#333"/>
<rect x="315.70" y="70.70" width="0.8" height="0.8" fill="#333"/>
<rect x="318.00" y="70.70" width="0.8" height="0.8" fill="#333"/>
<rect x="320.30" y="70.70" width="0.8" height="0.8" fill="#333"/>
<rect x="313.40" y="73.00" width="0.8" height="0.8" fill="#333"/>
<rect x="315.70" y="73.00" width="0.8" height="0.8" fill="#333"/>
<rect x="318.00" y="73.00" width="0.8" height="0.8" fill="#333"/>
<rect x="320.30" y="73.00" width="0.8" height="0.8" fill="#333"/>
<rect x="322.60" y="73.00" width="0.8" height="0.8" fill="#333"/>
<rect x="313.40" y="75.30" width="0.8" height="0.8" fill="#333"/>
<rect x="315.70" y="75.30" width="0.8" height="0.8" fill="#333"/>
<rect x="318.00" y="75.30" width="0.8" height="0.8" fill="#333"/>
<rect x="320.30" y="75.30" width="0.8" height="0.8" fill="#333"/>
<rect x="322.60" y="75.30" width="0.8" height="0.8" fill="#333"/>
<rect x="313.40" y="77.60" width="0.8" height="0.8" fill="#333"/>
<rect x="315.70" y="77.60" width="0.8" height="0.8" fill="#333"/>
<rect x="318.00" y="77.60" width="0.8" height="0.8" fill="#333"/>
<rect x="320.30" y="77.60" width="0.8" height="0.8" fill="#333"/>
<rect x="322.60" y="77.60" width="0.8" height="0.8" fill="#333"/>
<rect x="313.40" y="79.90" width="0.8" height="0.8" fill="#333"/>
<rect x="315.70" y="79.90" width="0.8" height="0.8" fill="#333"/>
<rect x="318.00" y="79.90" width="0.8" height="0.8" fill="#333"/>
<rect x="320.30" y="79.90" width="0.8" height="0.8" fill="#333"/>
<rect x="322.60" y="79.90" width="0.8" height="0.8" fill="#333"/>
<rect x="313.40" y="82.20" width="0.8" height="0.8" fill="#333"/>
<rect x="315.70" y="82.20" width="0.8" height="0.8" fill="#333"/>
<rect x="318.00" y="82.20" width="0.8" height="0.8" fill="#333"/>
<rect x="320.30" y="82.20" width="0.8" height="0.8" fill="#333"/>
<rect x="315.70" y="84.50" width="0.8" height="0.8" fill="#333"/>
<rect x="318.00" y="84.50" width="0.8" height="0.8" fill="#333"/>
<rect x="320.30" y="84.50" width="0.8" height="0.8" fill="#333"/>
<rect x="318.00" y="86.80" width="0.8" height="0.8" fill="#333"/>
<line x1="311.18571428571425" y1="76.3" x2="325.2142857142857" y2="76.3" stroke="#6b7cf5" stroke-width="0.85" stroke-dasharray="1.6 0.5"/>
<line x1="313.6045454545454" y1="83.9" x2="322.79545454545456" y2="83.9" stroke="#6b7cf5" stroke-width="0.85" stroke-dasharray="1.6 0.5"/>
<line x1="338.7" y1="65.7" x2="338.7" y2="70.0" stroke="#111" stroke-width="1.0"/>
<line x1="338.7" y1="96.5" x2="338.7" y2="101.7" stroke="#111" stroke-width="1.0"/>
<path d="M339.90,69.50 C339.93,70.00 340.02,71.50 340.10,72.50 C340.18,73.50 340.15,74.50 340.40,75.50 C340.65,76.50 341.03,77.50 341.60,78.50 C342.17,79.50 342.97,80.70 343.80,81.50 C344.63,82.30 346.40,82.78 346.60,83.30 C346.80,83.82 345.67,84.12 345.00,84.60 C344.33,85.08 343.20,85.60 342.60,86.20 C342.00,86.80 341.73,87.37 341.40,88.20 C341.07,89.03 340.90,90.20 340.60,91.20 C340.30,92.20 339.80,93.23 339.60,94.20 C339.40,95.17 339.43,96.53 339.40,97.00 L338.00,97.00 C337.97,96.53 338.00,95.17 337.80,94.20 C337.60,93.23 337.10,92.20 336.80,91.20 C336.50,90.20 336.33,89.03 336.00,88.20 C335.67,87.37 335.40,86.80 334.80,86.20 C334.20,85.60 333.07,85.08 332.40,84.60 C331.73,84.12 330.60,83.82 330.80,83.30 C331.00,82.78 332.77,82.30 333.60,81.50 C334.43,80.70 335.23,79.50 335.80,78.50 C336.37,77.50 336.75,76.50 337.00,75.50 C337.25,74.50 337.22,73.50 337.30,72.50 C337.38,71.50 337.47,70.00 337.50,69.50Z" fill="#a8dce4" stroke="#111" stroke-width="0.85"/>
<line x1="337.5" y1="77.0" x2="339.9" y2="77.0" stroke="#10202a" stroke-width="0.65" stroke-dasharray="1.2 0.6" opacity="1"/>
<line x1="336.9" y1="78.5" x2="340.5" y2="78.5" stroke="#10202a" stroke-width="0.65" stroke-dasharray="1.2 0.6" opacity="1"/>
<line x1="335.8" y1="80.0" x2="341.59999999999997" y2="80.0" stroke="#10202a" stroke-width="0.65" stroke-dasharray="1.2 0.6" opacity="1"/>
<line x1="334.7" y1="81.5" x2="342.7" y2="81.5" stroke="#10202a" stroke-width="0.65" stroke-dasharray="1.2 0.6" opacity="1"/>
<line x1="332.3666666666667" y1="83.0" x2="345.0333333333333" y2="83.0" stroke="#10202a" stroke-width="0.65" stroke-dasharray="1.2 0.6" opacity="1"/>
<line x1="333.37692307692305" y1="84.5" x2="344.0230769230769" y2="84.5" stroke="#10202a" stroke-width="0.65" stroke-dasharray="1.2 0.6" opacity="1"/>
<line x1="335.59999999999997" y1="86.0" x2="341.8" y2="86.0" stroke="#10202a" stroke-width="0.65" stroke-dasharray="1.2 0.6" opacity="1"/>
<line x1="336.68" y1="87.5" x2="340.71999999999997" y2="87.5" stroke="#10202a" stroke-width="0.65" stroke-dasharray="1.2 0.6" opacity="1"/>
<line x1="337.31333333333333" y1="89.0" x2="340.08666666666664" y2="89.0" stroke="#10202a" stroke-width="0.65" stroke-dasharray="1.2 0.6" opacity="1"/>
<line x1="337.7133333333333" y1="90.5" x2="339.68666666666667" y2="90.5" stroke="#10202a" stroke-width="0.65" stroke-dasharray="1.2 0.6" opacity="1"/>
<line x1="332.7" y1="83.1000000000002" x2="332.7" y2="83.9000000000002" stroke="#10202a" stroke-width="0.65" stroke-dasharray="1.2 0.6" opacity="1"/>
<line x1="334.2" y1="81.90000000000018" x2="334.2" y2="84.70000000000022" stroke="#10202a" stroke-width="0.65" stroke-dasharray="1.2 0.6" opacity="1"/>
<line x1="335.7" y1="80.30000000000015" x2="335.7" y2="85.90000000000023" stroke="#10202a" stroke-width="0.65" stroke-dasharray="1.2 0.6" opacity="1"/>
<line x1="337.2" y1="77.90000000000012" x2="337.2" y2="88.30000000000027" stroke="#10202a" stroke-width="0.65" stroke-dasharray="1.2 0.6" opacity="1"/>
<line x1="338.7" y1="69.5" x2="338.7" y2="93.50000000000034" stroke="#10202a" stroke-width="0.65" stroke-dasharray="1.2 0.6" opacity="1"/>
<line x1="340.2" y1="77.90000000000012" x2="340.2" y2="88.30000000000027" stroke="#10202a" stroke-width="0.65" stroke-dasharray="1.2 0.6" opacity="1"/>
<line x1="341.7" y1="80.30000000000015" x2="341.7" y2="85.90000000000023" stroke="#10202a" stroke-width="0.65" stroke-dasharray="1.2 0.6" opacity="1"/>
<line x1="343.2" y1="81.90000000000018" x2="343.2" y2="84.70000000000022" stroke="#10202a" stroke-width="0.65" stroke-dasharray="1.2 0.6" opacity="1"/>
<line x1="344.7" y1="83.1000000000002" x2="344.7" y2="83.9000000000002" stroke="#10202a" stroke-width="0.65" stroke-dasharray="1.2 0.6" opacity="1"/>
<line x1="331.76666666666665" y1="83" x2="345.6333333333333" y2="83" stroke="#6b7cf5" stroke-width="0.85" stroke-dasharray="1.6 0.5"/>
<line x1="336.08" y1="87.5" x2="341.32" y2="87.5" stroke="#6b7cf5" stroke-width="0.85" stroke-dasharray="1.6 0.5"/>
<line x1="408.2" y1="65" x2="408.2" y2="77.7" stroke="#111" stroke-width="1.0"/>
<line x1="408.2" y1="91.0" x2="408.2" y2="100.1" stroke="#111" stroke-width="1.0"/>
<path d="M408.2,73.4 L410.59999999999997,75 L408.2,77.2 L405.8,75Z" fill="#fff" stroke="#111" stroke-width="0.8" stroke-linejoin="round"/>
<path d="M409.00,77.20 C409.53,77.43 411.38,78.12 412.20,78.60 C413.02,79.08 413.43,79.50 413.90,80.10 C414.37,80.70 414.82,81.48 415.00,82.20 C415.18,82.92 415.20,83.68 415.00,84.40 C414.80,85.12 414.33,85.78 413.80,86.50 C413.27,87.22 412.52,88.05 411.80,88.70 C411.08,89.35 410.00,89.93 409.50,90.40 C409.00,90.87 408.92,91.32 408.80,91.50 L407.60,91.50 C407.48,91.32 407.40,90.87 406.90,90.40 C406.40,89.93 405.32,89.35 404.60,88.70 C403.88,88.05 403.13,87.22 402.60,86.50 C402.07,85.78 401.60,85.12 401.40,84.40 C401.20,83.68 401.22,82.92 401.40,82.20 C401.58,81.48 402.03,80.70 402.50,80.10 C402.97,79.50 403.38,79.08 404.20,78.60 C405.02,78.12 406.87,77.43 407.40,77.20Z" fill="#fff" stroke="#111" stroke-width="0.85"/>
<line x1="405.18666666666667" y1="78.7" x2="411.2133333333333" y2="78.7" stroke="#555" stroke-width="0.65" stroke-dasharray="1.2 0.6" opacity="0.7"/>
<line x1="403.18095238095236" y1="80.9" x2="413.2190476190476" y2="80.9" stroke="#555" stroke-width="0.65" stroke-dasharray="1.2 0.6" opacity="0.7"/>
<line x1="402.5" y1="83.10000000000001" x2="413.9" y2="83.10000000000001" stroke="#555" stroke-width="0.65" stroke-dasharray="1.2 0.6" opacity="0.7"/>
<line x1="403.01428571428573" y1="85.30000000000001" x2="413.38571428571424" y2="85.30000000000001" stroke="#555" stroke-width="0.65" stroke-dasharray="1.2 0.6" opacity="0.7"/>
<line x1="404.6090909090909" y1="87.50000000000001" x2="411.79090909090905" y2="87.50000000000001" stroke="#555" stroke-width="0.65" stroke-dasharray="1.2 0.6" opacity="0.7"/>
<line x1="407.0529411764706" y1="89.70000000000002" x2="409.3470588235294" y2="89.70000000000002" stroke="#555" stroke-width="0.65" stroke-dasharray="1.2 0.6" opacity="0.7"/>
<line x1="403.59999999999997" y1="80.40000000000005" x2="403.59999999999997" y2="86.00000000000013" stroke="#555" stroke-width="0.65" stroke-dasharray="1.2 0.6" opacity="0.7"/>
<line x1="405.8" y1="78.40000000000002" x2="405.8" y2="88.40000000000016" stroke="#555" stroke-width="0.65" stroke-dasharray="1.2 0.6" opacity="0.7"/>
<line x1="408.0" y1="77.60000000000001" x2="408.0" y2="90.00000000000018" stroke="#555" stroke-width="0.65" stroke-dasharray="1.2 0.6" opacity="0.7"/>
<line x1="410.2" y1="78.40000000000002" x2="410.2" y2="88.80000000000017" stroke="#555" stroke-width="0.65" stroke-dasharray="1.2 0.6" opacity="0.7"/>
<line x1="412.4" y1="80.00000000000004" x2="412.4" y2="86.80000000000014" stroke="#555" stroke-width="0.65" stroke-dasharray="1.2 0.6" opacity="0.7"/>
<line x1="402.26666666666665" y1="81.5" x2="414.1333333333333" y2="81.5" stroke="#6b7cf5" stroke-width="0.85" stroke-dasharray="1.6 0.5"/>
<line x1="403.09999999999997" y1="86.5" x2="413.3" y2="86.5" stroke="#6b7cf5" stroke-width="0.85" stroke-dasharray="1.6 0.5"/>
<circle cx="408.2" cy="67.2" r="1.3" fill="#111"/><circle cx="408.2" cy="98.7" r="1.3" fill="#111"/>
<line x1="426.8" y1="51.9" x2="426.8" y2="64.7" stroke="#111" stroke-width="1.0"/>
<line x1="426.8" y1="90.5" x2="426.8" y2="93.7" stroke="#111" stroke-width="1.0"/>
<path d="M427.60,64.20 C427.60,64.45 427.37,65.08 427.60,65.70 C427.83,66.32 428.53,67.18 429.00,67.90 C429.47,68.62 429.78,69.28 430.40,70.00 C431.02,70.72 432.05,71.48 432.70,72.20 C433.35,72.92 434.38,73.58 434.30,74.30 C434.22,75.02 432.85,75.78 432.20,76.50 C431.55,77.22 430.60,77.88 430.40,78.60 C430.20,79.32 430.77,80.08 431.00,80.80 C431.23,81.52 431.83,82.18 431.80,82.90 C431.77,83.62 431.15,84.38 430.80,85.10 C430.45,85.82 430.15,86.48 429.70,87.20 C429.25,87.92 428.47,88.77 428.10,89.40 C427.73,90.03 427.60,90.73 427.50,91.00 L426.10,91.00 C426.00,90.73 425.87,90.03 425.50,89.40 C425.13,88.77 424.35,87.92 423.90,87.20 C423.45,86.48 423.15,85.82 422.80,85.10 C422.45,84.38 421.83,83.62 421.80,82.90 C421.77,82.18 422.37,81.52 422.60,80.80 C422.83,80.08 423.40,79.32 423.20,78.60 C423.00,77.88 422.05,77.22 421.40,76.50 C420.75,75.78 419.38,75.02 419.30,74.30 C419.22,73.58 420.25,72.92 420.90,72.20 C421.55,71.48 422.58,70.72 423.20,70.00 C423.82,69.28 424.13,68.62 424.60,67.90 C425.07,67.18 425.77,66.32 426.00,65.70 C426.23,65.08 426.00,64.45 426.00,64.20Z" fill="#a8dce4" stroke="#111" stroke-width="0.85"/>
<line x1="425.7636363636364" y1="67.8" x2="427.8363636363636" y2="67.8" stroke="#10202a" stroke-width="0.65" stroke-dasharray="1.2 0.6" opacity="0.95"/>
<line x1="424.3666666666667" y1="69.89999999999999" x2="429.23333333333335" y2="69.89999999999999" stroke="#10202a" stroke-width="0.65" stroke-dasharray="1.2 0.6" opacity="0.95"/>
<line x1="422.20909090909095" y1="71.99999999999999" x2="431.3909090909091" y2="71.99999999999999" stroke="#10202a" stroke-width="0.65" stroke-dasharray="1.2 0.6" opacity="0.95"/>
<line x1="420.552380952381" y1="74.09999999999998" x2="433.04761904761904" y2="74.09999999999998" stroke="#10202a" stroke-width="0.65" stroke-dasharray="1.2 0.6" opacity="0.95"/>
<line x1="422.21363636363634" y1="76.19999999999997" x2="431.3863636363637" y2="76.19999999999997" stroke="#10202a" stroke-width="0.65" stroke-dasharray="1.2 0.6" opacity="0.95"/>
<line x1="424.04285714285714" y1="78.29999999999997" x2="429.5571428571429" y2="78.29999999999997" stroke="#10202a" stroke-width="0.65" stroke-dasharray="1.2 0.6" opacity="0.95"/>
<line x1="423.8090909090909" y1="80.39999999999996" x2="429.7909090909091" y2="80.39999999999996" stroke="#10202a" stroke-width="0.65" stroke-dasharray="1.2 0.6" opacity="0.95"/>
<line x1="423.052380952381" y1="82.49999999999996" x2="430.54761904761904" y2="82.49999999999996" stroke="#10202a" stroke-width="0.65" stroke-dasharray="1.2 0.6" opacity="0.95"/>
<line x1="423.6727272727273" y1="84.59999999999995" x2="429.92727272727274" y2="84.59999999999995" stroke="#10202a" stroke-width="0.65" stroke-dasharray="1.2 0.6" opacity="0.95"/>
<line x1="424.73809523809524" y1="86.69999999999995" x2="428.8619047619048" y2="86.69999999999995" stroke="#10202a" stroke-width="0.65" stroke-dasharray="1.2 0.6" opacity="0.95"/>
<line x1="422.0" y1="72.20000000000012" x2="422.0" y2="75.80000000000017" stroke="#10202a" stroke-width="0.65" stroke-dasharray="1.2 0.6" opacity="0.95"/>
<line x1="424.1" y1="70.20000000000009" x2="424.1" y2="85.4000000000003" stroke="#10202a" stroke-width="0.65" stroke-dasharray="1.2 0.6" opacity="0.95"/>
<line x1="426.2" y1="67.40000000000005" x2="426.2" y2="88.60000000000035" stroke="#10202a" stroke-width="0.65" stroke-dasharray="1.2 0.6" opacity="0.95"/>
<line x1="428.3" y1="68.60000000000007" x2="428.3" y2="87.40000000000033" stroke="#10202a" stroke-width="0.65" stroke-dasharray="1.2 0.6" opacity="0.95"/>
<line x1="430.40000000000003" y1="71.4000000000001" x2="430.40000000000003" y2="83.40000000000028" stroke="#10202a" stroke-width="0.65" stroke-dasharray="1.2 0.6" opacity="0.95"/>
<line x1="432.5" y1="73.40000000000013" x2="432.5" y2="75.00000000000016" stroke="#10202a" stroke-width="0.65" stroke-dasharray="1.2 0.6" opacity="0.95"/>
<line x1="420.46818181818185" y1="75" x2="433.1318181818182" y2="75" stroke="#6b7cf5" stroke-width="0.85" stroke-dasharray="1.6 0.5"/>
<line x1="422.3" y1="82.9" x2="431.3" y2="82.9" stroke="#6b7cf5" stroke-width="0.85" stroke-dasharray="1.6 0.5"/>
<line x1="513.2" y1="55.9" x2="513.2" y2="71.1" stroke="#111" stroke-width="1.4"/>
<line x1="513.2" y1="103.0" x2="513.2" y2="107.8" stroke="#111" stroke-width="1.4"/>
<path d="M514.00,70.60 C514.12,71.00 514.35,72.10 514.70,73.00 C515.05,73.90 515.73,75.00 516.10,76.00 C516.47,77.00 516.70,78.00 516.90,79.00 C517.10,80.00 517.17,81.00 517.30,82.00 C517.43,83.00 517.45,84.00 517.70,85.00 C517.95,86.00 518.28,87.00 518.80,88.00 C519.32,89.00 520.38,90.00 520.80,91.00 C521.22,92.00 521.43,93.00 521.30,94.00 C521.17,95.00 520.63,96.00 520.00,97.00 C519.37,98.00 518.33,99.17 517.50,100.00 C516.67,100.83 515.58,101.42 515.00,102.00 C514.42,102.58 514.17,103.25 514.00,103.50 L512.40,103.50 C512.23,103.25 511.98,102.58 511.40,102.00 C510.82,101.42 509.73,100.83 508.90,100.00 C508.07,99.17 507.03,98.00 506.40,97.00 C505.77,96.00 505.23,95.00 505.10,94.00 C504.97,93.00 505.18,92.00 505.60,91.00 C506.02,90.00 507.08,89.00 507.60,88.00 C508.12,87.00 508.45,86.00 508.70,85.00 C508.95,84.00 508.97,83.00 509.10,82.00 C509.23,81.00 509.30,80.00 509.50,79.00 C509.70,78.00 509.93,77.00 510.30,76.00 C510.67,75.00 511.35,73.90 511.70,73.00 C512.05,72.10 512.28,71.00 512.40,70.60Z" fill="#fff" stroke="#111" stroke-width="0.85"/>
<rect x="513.59" y="79.34" width="1.1" height="1.1" fill="#222"/>
<rect x="517.21" y="92.05" width="1.1" height="1.1" fill="#222"/>
<rect x="511.65" y="77.15" width="1.1" height="1.1" fill="#222"/>
<rect x="511.80" y="76.00" width="1.1" height="1.1" fill="#222"/>
<rect x="507.76" y="93.55" width="1.1" height="1.1" fill="#222"/>
<rect x="510.30" y="87.49" width="1.1" height="1.1" fill="#222"/>
<rect x="512.35" y="80.41" width="1.1" height="1.1" fill="#222"/>
<rect x="513.84" y="96.65" width="1.1" height="1.1" fill="#222"/>
<rect x="510.95" y="79.85" width="1.1" height="1.1" fill="#222"/>
<rect x="515.45" y="97.65" width="1.1" height="1.1" fill="#222"/>
<rect x="516.45" y="95.70" width="1.1" height="1.1" fill="#222"/>
<rect x="518.58" y="93.87" width="1.1" height="1.1" fill="#222"/>
<rect x="509.83" y="95.33" width="1.1" height="1.1" fill="#222"/>
<rect x="512.57" y="97.01" width="1.1" height="1.1" fill="#222"/>
<rect x="513.52" y="94.17" width="1.1" height="1.1" fill="#222"/>
<rect x="511.86" y="84.44" width="1.1" height="1.1" fill="#222"/>
<rect x="511.55" y="84.45" width="1.1" height="1.1" fill="#222"/>
<rect x="513.54" y="75.11" width="1.1" height="1.1" fill="#222"/>
<rect x="518.38" y="95.47" width="1.1" height="1.1" fill="#222"/>
<rect x="513.40" y="92.26" width="1.1" height="1.1" fill="#222"/>
<rect x="507.96" y="93.98" width="1.1" height="1.1" fill="#222"/>
<rect x="511.97" y="91.84" width="1.1" height="1.1" fill="#222"/>
<rect x="511.59" y="76.88" width="1.1" height="1.1" fill="#222"/>
<rect x="510.68" y="87.23" width="1.1" height="1.1" fill="#222"/>
<rect x="513.42" y="85.34" width="1.1" height="1.1" fill="#222"/>
<rect x="510.52" y="83.43" width="1.1" height="1.1" fill="#222"/>
<rect x="510.72" y="86.28" width="1.1" height="1.1" fill="#222"/>
<rect x="511.28" y="78.65" width="1.1" height="1.1" fill="#222"/>
<rect x="510.28" y="82.56" width="1.1" height="1.1" fill="#222"/>
<line x1="509.56000000000006" y1="82.3" x2="516.84" y2="82.3" stroke="#6b7cf5" stroke-width="0.85" stroke-dasharray="1.6 0.5"/>
<line x1="505.6433333333334" y1="94.1" x2="520.7566666666667" y2="94.1" stroke="#6b7cf5" stroke-width="0.85" stroke-dasharray="1.6 0.5"/>
<line x1="533.7" y1="70.5" x2="533.7" y2="74.0" stroke="#111" stroke-width="1.0"/>
<line x1="533.7" y1="103.5" x2="533.7" y2="109.5" stroke="#111" stroke-width="1.0"/>
<path d="M534.70,73.50 C534.68,74.00 534.45,75.50 534.60,76.50 C534.75,77.50 535.30,78.50 535.60,79.50 C535.90,80.50 536.15,81.50 536.40,82.50 C536.65,83.50 536.85,84.50 537.10,85.50 C537.35,86.50 537.75,87.63 537.90,88.50 C538.05,89.37 537.82,89.95 538.00,90.70 C538.18,91.45 538.62,92.25 539.00,93.00 C539.38,93.75 539.93,94.45 540.30,95.20 C540.67,95.95 541.30,96.82 541.20,97.50 C541.10,98.18 540.35,98.68 539.70,99.30 C539.05,99.92 538.08,100.63 537.30,101.20 C536.52,101.77 535.48,102.23 535.00,102.70 C534.52,103.17 534.50,103.78 534.40,104.00 L533.00,104.00 C532.90,103.78 532.88,103.17 532.40,102.70 C531.92,102.23 530.88,101.77 530.10,101.20 C529.32,100.63 528.35,99.92 527.70,99.30 C527.05,98.68 526.30,98.18 526.20,97.50 C526.10,96.82 526.73,95.95 527.10,95.20 C527.47,94.45 528.02,93.75 528.40,93.00 C528.78,92.25 529.22,91.45 529.40,90.70 C529.58,89.95 529.35,89.37 529.50,88.50 C529.65,87.63 530.05,86.50 530.30,85.50 C530.55,84.50 530.75,83.50 531.00,82.50 C531.25,81.50 531.50,80.50 531.80,79.50 C532.10,78.50 532.65,77.50 532.80,76.50 C532.95,75.50 532.72,74.00 532.70,73.50Z" fill="#a4d9e1" stroke="#111" stroke-width="0.85"/>
<line x1="532.74" y1="80.10000000000001" x2="534.6600000000001" y2="80.10000000000001" stroke="#10202a" stroke-width="0.65" stroke-dasharray="1.2 0.6" opacity="0.95"/>
<line x1="532.2866666666667" y1="81.80000000000001" x2="535.1133333333333" y2="81.80000000000001" stroke="#10202a" stroke-width="0.65" stroke-dasharray="1.2 0.6" opacity="0.95"/>
<line x1="531.8666666666667" y1="83.50000000000001" x2="535.5333333333334" y2="83.50000000000001" stroke="#10202a" stroke-width="0.65" stroke-dasharray="1.2 0.6" opacity="0.95"/>
<line x1="531.47" y1="85.20000000000002" x2="535.9300000000001" y2="85.20000000000002" stroke="#10202a" stroke-width="0.65" stroke-dasharray="1.2 0.6" opacity="0.95"/>
<line x1="531.0266666666668" y1="86.90000000000002" x2="536.3733333333333" y2="86.90000000000002" stroke="#10202a" stroke-width="0.65" stroke-dasharray="1.2 0.6" opacity="0.95"/>
<line x1="530.5954545454546" y1="88.60000000000002" x2="536.8045454545455" y2="88.60000000000002" stroke="#10202a" stroke-width="0.65" stroke-dasharray="1.2 0.6" opacity="0.95"/>
<line x1="530.5181818181819" y1="90.30000000000003" x2="536.8818181818182" y2="90.30000000000003" stroke="#10202a" stroke-width="0.65" stroke-dasharray="1.2 0.6" opacity="0.95"/>
<line x1="529.9347826086957" y1="92.00000000000003" x2="537.4652173913043" y2="92.00000000000003" stroke="#10202a" stroke-width="0.65" stroke-dasharray="1.2 0.6" opacity="0.95"/>
<line x1="529.0863636363637" y1="93.70000000000003" x2="538.3136363636364" y2="93.70000000000003" stroke="#10202a" stroke-width="0.65" stroke-dasharray="1.2 0.6" opacity="0.95"/>
<line x1="528.1217391304348" y1="95.40000000000003" x2="539.2782608695653" y2="95.40000000000003" stroke="#10202a" stroke-width="0.65" stroke-dasharray="1.2 0.6" opacity="0.95"/>
<line x1="527.4565217391305" y1="97.10000000000004" x2="539.9434782608696" y2="97.10000000000004" stroke="#10202a" stroke-width="0.65" stroke-dasharray="1.2 0.6" opacity="0.95"/>
<line x1="528.3833333333334" y1="98.80000000000004" x2="539.0166666666667" y2="98.80000000000004" stroke="#10202a" stroke-width="0.65" stroke-dasharray="1.2 0.6" opacity="0.95"/>
<line x1="530.3157894736843" y1="100.50000000000004" x2="537.0842105263158" y2="100.50000000000004" stroke="#10202a" stroke-width="0.65" stroke-dasharray="1.2 0.6" opacity="0.95"/>
<line x1="532.7333333333335" y1="102.20000000000005" x2="534.6666666666666" y2="102.20000000000005" stroke="#10202a" stroke-width="0.65" stroke-dasharray="1.2 0.6" opacity="0.95"/>
<line x1="528.1" y1="95.50000000000031" x2="528.1" y2="98.30000000000035" stroke="#10202a" stroke-width="0.65" stroke-dasharray="1.2 0.6" opacity="0.95"/>
<line x1="529.8000000000001" y1="92.70000000000027" x2="529.8000000000001" y2="99.90000000000038" stroke="#10202a" stroke-width="0.65" stroke-dasharray="1.2 0.6" opacity="0.95"/>
<line x1="531.5" y1="85.10000000000016" x2="531.5" y2="101.10000000000039" stroke="#10202a" stroke-width="0.65" stroke-dasharray="1.2 0.6" opacity="0.95"/>
<line x1="533.2" y1="78.70000000000007" x2="533.2" y2="102.30000000000041" stroke="#10202a" stroke-width="0.65" stroke-dasharray="1.2 0.6" opacity="0.95"/>
<line x1="534.9000000000001" y1="81.10000000000011" x2="534.9000000000001" y2="101.9000000000004" stroke="#10202a" stroke-width="0.65" stroke-dasharray="1.2 0.6" opacity="0.95"/>
<line x1="536.6" y1="87.9000000000002" x2="536.6" y2="100.70000000000039" stroke="#10202a" stroke-width="0.65" stroke-dasharray="1.2 0.6" opacity="0.95"/>
<line x1="538.3000000000001" y1="93.90000000000029" x2="538.3000000000001" y2="99.50000000000037" stroke="#10202a" stroke-width="0.65" stroke-dasharray="1.2 0.6" opacity="0.95"/>
<line x1="530.0533333333334" y1="88.3" x2="537.3466666666667" y2="88.3" stroke="#6b7cf5" stroke-width="0.85" stroke-dasharray="1.6 0.5"/>
<line x1="527.0333333333334" y1="97.9" x2="540.3666666666667" y2="97.9" stroke="#6b7cf5" stroke-width="0.85" stroke-dasharray="1.6 0.5"/>
<line x1="579.4" y1="55.4" x2="579.4" y2="61.2" stroke="#111" stroke-width="1.0"/>
<line x1="579.4" y1="109.0" x2="579.4" y2="113.7" stroke="#111" stroke-width="1.0"/>
<path d="M580.20,60.70 C580.28,61.07 580.45,62.00 580.70,62.90 C580.95,63.80 581.45,64.97 581.70,66.10 C581.95,67.23 582.08,68.38 582.20,69.70 C582.32,71.02 582.40,72.63 582.40,74.00 C582.40,75.37 582.35,76.53 582.20,77.90 C582.05,79.27 581.70,80.83 581.50,82.20 C581.30,83.57 581.03,84.95 581.00,86.10 C580.97,87.25 580.93,88.10 581.30,89.10 C581.67,90.10 582.38,91.10 583.20,92.10 C584.02,93.10 585.37,94.10 586.20,95.10 C587.03,96.10 587.82,97.10 588.20,98.10 C588.58,99.10 588.83,100.10 588.50,101.10 C588.17,102.10 587.17,103.22 586.20,104.10 C585.23,104.98 583.70,105.67 582.70,106.40 C581.70,107.13 580.65,107.98 580.20,108.50 C579.75,109.02 580.03,109.33 580.00,109.50 L578.80,109.50 C578.77,109.33 579.05,109.02 578.60,108.50 C578.15,107.98 577.10,107.13 576.10,106.40 C575.10,105.67 573.57,104.98 572.60,104.10 C571.63,103.22 570.63,102.10 570.30,101.10 C569.97,100.10 570.22,99.10 570.60,98.10 C570.98,97.10 571.77,96.10 572.60,95.10 C573.43,94.10 574.78,93.10 575.60,92.10 C576.42,91.10 577.13,90.10 577.50,89.10 C577.87,88.10 577.83,87.25 577.80,86.10 C577.77,84.95 577.50,83.57 577.30,82.20 C577.10,80.83 576.75,79.27 576.60,77.90 C576.45,76.53 576.40,75.37 576.40,74.00 C576.40,72.63 576.48,71.02 576.60,69.70 C576.72,68.38 576.85,67.23 577.10,66.10 C577.35,64.97 577.85,63.80 578.10,62.90 C578.35,62.00 578.52,61.07 578.60,60.70Z" fill="#fff" stroke="#111" stroke-width="0.85"/>
<rect x="577.05" y="105.91" width="1.1" height="1.1" fill="#222"/>
<rect x="574.84" y="95.41" width="1.1" height="1.1" fill="#222"/>
<rect x="578.18" y="106.87" width="1.1" height="1.1" fill="#222"/>
<rect x="581.31" y="101.98" width="1.1" height="1.1" fill="#222"/>
<rect x="586.32" y="100.97" width="1.1" height="1.1" fill="#222"/>
<rect x="578.39" y="72.68" width="1.1" height="1.1" fill="#222"/>
<rect x="576.73" y="94.14" width="1.1" height="1.1" fill="#222"/>
<rect x="578.04" y="73.76" width="1.1" height="1.1" fill="#222"/>
<rect x="584.44" y="100.99" width="1.1" height="1.1" fill="#222"/>
<rect x="574.77" y="98.23" width="1.1" height="1.1" fill="#222"/>
<rect x="579.01" y="104.06" width="1.1" height="1.1" fill="#222"/>
<rect x="578.76" y="72.30" width="1.1" height="1.1" fill="#222"/>
<rect x="578.21" y="80.93" width="1.1" height="1.1" fill="#222"/>
<rect x="578.79" y="87.56" width="1.1" height="1.1" fill="#222"/>
<rect x="579.26" y="87.79" width="1.1" height="1.1" fill="#222"/>
<rect x="578.48" y="91.27" width="1.1" height="1.1" fill="#222"/>
<rect x="586.03" y="101.25" width="1.1" height="1.1" fill="#222"/>
<rect x="579.24" y="84.15" width="1.1" height="1.1" fill="#222"/>
<rect x="578.08" y="68.13" width="1.1" height="1.1" fill="#222"/>
<rect x="580.34" y="104.66" width="1.1" height="1.1" fill="#222"/>
<rect x="576.59" y="94.63" width="1.1" height="1.1" fill="#222"/>
<line x1="577.1" y1="77.9" x2="581.6999999999999" y2="77.9" stroke="#6b7cf5" stroke-width="0.85" stroke-dasharray="1.6 0.5"/>
<line x1="571.1066666666667" y1="101.5" x2="587.6933333333333" y2="101.5" stroke="#6b7cf5" stroke-width="0.85" stroke-dasharray="1.6 0.5"/>
<line x1="571.9666666666667" y1="96.8" x2="586.8333333333333" y2="96.8" stroke="#111" stroke-width="0.9" stroke-dasharray="1.6 0.5"/>
<line x1="601.3" y1="66.1" x2="601.3" y2="97.7" stroke="#1a2a33" stroke-width="1.7"/>
<line x1="601.3" y1="105.0" x2="601.3" y2="107.5" stroke="#1a2a33" stroke-width="1.7"/>
<path d="M602.50,97.20 C602.68,97.63 602.75,99.15 603.60,99.80 C604.45,100.45 606.60,100.75 607.60,101.10 C608.60,101.45 609.60,101.58 609.60,101.90 C609.60,102.22 608.60,102.63 607.60,103.00 C606.60,103.37 604.48,103.68 603.60,104.10 C602.72,104.52 602.52,105.27 602.30,105.50 L600.30,105.50 C600.08,105.27 599.88,104.52 599.00,104.10 C598.12,103.68 596.00,103.37 595.00,103.00 C594.00,102.63 593.00,102.22 593.00,101.90 C593.00,101.58 594.00,101.45 595.00,101.10 C596.00,100.75 598.15,100.45 599.00,99.80 C599.85,99.15 599.92,97.63 600.10,97.20Z" fill="#4d7f8a" stroke="#111" stroke-width="0.85"/>
<line x1="593.6818181818181" y1="102" x2="608.9181818181818" y2="102" stroke="#6b7cf5" stroke-width="0.85" stroke-dasharray="1.6 0.5"/>
<line x1="645.5" y1="58.6" x2="645.5" y2="62.0" stroke="#111" stroke-width="1.0"/>
<line x1="645.5" y1="110.0" x2="645.5" y2="113.4" stroke="#111" stroke-width="1.0"/>
<path d="M646.30,61.50 C646.35,61.92 646.43,63.08 646.60,64.00 C646.77,64.92 647.15,66.00 647.30,67.00 C647.45,68.00 647.50,69.00 647.50,70.00 C647.50,71.00 647.37,72.00 647.30,73.00 C647.23,74.00 646.98,75.17 647.10,76.00 C647.22,76.83 647.45,77.33 648.00,78.00 C648.55,78.67 649.67,79.28 650.40,80.00 C651.13,80.72 651.85,81.35 652.40,82.30 C652.95,83.25 653.52,84.52 653.70,85.70 C653.88,86.88 653.68,88.18 653.50,89.40 C653.32,90.62 652.70,91.82 652.60,93.00 C652.50,94.18 652.73,95.37 652.90,96.50 C653.07,97.63 653.65,98.62 653.60,99.80 C653.55,100.98 653.27,102.48 652.60,103.60 C651.93,104.72 650.60,105.60 649.60,106.50 C648.60,107.40 647.18,108.33 646.60,109.00 C646.02,109.67 646.18,110.25 646.10,110.50 L644.90,110.50 C644.82,110.25 644.98,109.67 644.40,109.00 C643.82,108.33 642.40,107.40 641.40,106.50 C640.40,105.60 639.07,104.72 638.40,103.60 C637.73,102.48 637.45,100.98 637.40,99.80 C637.35,98.62 637.93,97.63 638.10,96.50 C638.27,95.37 638.50,94.18 638.40,93.00 C638.30,91.82 637.68,90.62 637.50,89.40 C637.32,88.18 637.12,86.88 637.30,85.70 C637.48,84.52 638.05,83.25 638.60,82.30 C639.15,81.35 639.87,80.72 640.60,80.00 C641.33,79.28 642.45,78.67 643.00,78.00 C643.55,77.33 643.78,76.83 643.90,76.00 C644.02,75.17 643.77,74.00 643.70,73.00 C643.63,72.00 643.50,71.00 643.50,70.00 C643.50,69.00 643.55,68.00 643.70,67.00 C643.85,66.00 644.23,64.92 644.40,64.00 C644.57,63.08 644.65,61.92 644.70,61.50Z" fill="#fff" stroke="#111" stroke-width="0.85"/>
<rect x="649.13" y="86.51" width="1.1" height="1.1" fill="#222"/>
<rect x="644.21" y="106.68" width="1.1" height="1.1" fill="#222"/>
<rect x="647.60" y="97.74" width="1.1" height="1.1" fill="#222"/>
<rect x="640.53" y="92.92" width="1.1" height="1.1" fill="#222"/>
<rect x="647.01" y="80.17" width="1.1" height="1.1" fill="#222"/>
<rect x="642.52" y="85.57" width="1.1" height="1.1" fill="#222"/>
<rect x="650.47" y="101.43" width="1.1" height="1.1" fill="#222"/>
<rect x="649.77" y="80.97" width="1.1" height="1.1" fill="#222"/>
<rect x="649.91" y="99.88" width="1.1" height="1.1" fill="#222"/>
<rect x="645.25" y="69.44" width="1.1" height="1.1" fill="#222"/>
<rect x="651.04" y="88.21" width="1.1" height="1.1" fill="#222"/>
<rect x="645.03" y="72.16" width="1.1" height="1.1" fill="#222"/>
<rect x="646.58" y="103.09" width="1.1" height="1.1" fill="#222"/>
<rect x="644.37" y="76.72" width="1.1" height="1.1" fill="#222"/>
<rect x="644.85" y="105.73" width="1.1" height="1.1" fill="#222"/>
<rect x="645.35" y="69.01" width="1.1" height="1.1" fill="#222"/>
<rect x="650.49" y="99.92" width="1.1" height="1.1" fill="#222"/>
<rect x="641.77" y="79.62" width="1.1" height="1.1" fill="#222"/>
<rect x="643.19" y="97.09" width="1.1" height="1.1" fill="#222"/>
<rect x="644.52" y="106.64" width="1.1" height="1.1" fill="#222"/>
<rect x="649.74" y="98.12" width="1.1" height="1.1" fill="#222"/>
<line x1="637.8648648648649" y1="86.9" x2="653.1351351351351" y2="86.9" stroke="#6b7cf5" stroke-width="0.85" stroke-dasharray="1.6 0.5"/>
<line x1="638.7421052631579" y1="103" x2="652.2578947368421" y2="103" stroke="#6b7cf5" stroke-width="0.85" stroke-dasharray="1.6 0.5"/>
<line x1="638.8828571428571" y1="93.2" x2="652.1171428571429" y2="93.2" stroke="#111" stroke-width="0.9" stroke-dasharray="1.6 0.5"/>
<line x1="665.7" y1="73.2" x2="665.7" y2="77.5" stroke="#111" stroke-width="1.0"/>
<line x1="665.7" y1="108.5" x2="665.7" y2="112.2" stroke="#111" stroke-width="1.0"/>
<path d="M666.50,77.00 C666.73,77.37 667.58,78.45 667.90,79.20 C668.22,79.95 668.32,80.75 668.40,81.50 C668.48,82.25 668.37,82.95 668.40,83.70 C668.43,84.45 668.50,85.25 668.60,86.00 C668.70,86.75 668.83,87.53 669.00,88.20 C669.17,88.87 669.18,89.37 669.60,90.00 C670.02,90.63 670.93,91.25 671.50,92.00 C672.07,92.75 672.62,93.58 673.00,94.50 C673.38,95.42 673.62,96.50 673.80,97.50 C673.98,98.50 674.13,99.67 674.10,100.50 C674.07,101.33 674.07,101.80 673.60,102.50 C673.13,103.20 672.10,104.00 671.30,104.70 C670.50,105.40 669.55,106.12 668.80,106.70 C668.05,107.28 667.22,107.82 666.80,108.20 C666.38,108.58 666.38,108.87 666.30,109.00 L665.10,109.00 C665.02,108.87 665.02,108.58 664.60,108.20 C664.18,107.82 663.35,107.28 662.60,106.70 C661.85,106.12 660.90,105.40 660.10,104.70 C659.30,104.00 658.27,103.20 657.80,102.50 C657.33,101.80 657.33,101.33 657.30,100.50 C657.27,99.67 657.42,98.50 657.60,97.50 C657.78,96.50 658.02,95.42 658.40,94.50 C658.78,93.58 659.33,92.75 659.90,92.00 C660.47,91.25 661.38,90.63 661.80,90.00 C662.22,89.37 662.23,88.87 662.40,88.20 C662.57,87.53 662.70,86.75 662.80,86.00 C662.90,85.25 662.97,84.45 663.00,83.70 C663.03,82.95 662.92,82.25 663.00,81.50 C663.08,80.75 663.18,79.95 663.50,79.20 C663.82,78.45 664.67,77.37 664.90,77.00Z" fill="#a4d9e1" stroke="#111" stroke-width="0.85"/>
<line x1="664.3173913043479" y1="80.5" x2="667.0826086956522" y2="80.5" stroke="#10202a" stroke-width="0.65" stroke-dasharray="1.2 0.6" opacity="0.9"/>
<line x1="664.1" y1="82.5" x2="667.3000000000001" y2="82.5" stroke="#10202a" stroke-width="0.65" stroke-dasharray="1.2 0.6" opacity="0.9"/>
<line x1="664.0304347826087" y1="84.5" x2="667.3695652173914" y2="84.5" stroke="#10202a" stroke-width="0.65" stroke-dasharray="1.2 0.6" opacity="0.9"/>
<line x1="663.809090909091" y1="86.5" x2="667.5909090909091" y2="86.5" stroke="#10202a" stroke-width="0.65" stroke-dasharray="1.2 0.6" opacity="0.9"/>
<line x1="663.4000000000001" y1="88.5" x2="668.0" y2="88.5" stroke="#10202a" stroke-width="0.65" stroke-dasharray="1.2 0.6" opacity="0.9"/>
<line x1="662.4250000000001" y1="90.5" x2="668.975" y2="90.5" stroke="#10202a" stroke-width="0.65" stroke-dasharray="1.2 0.6" opacity="0.9"/>
<line x1="660.7" y1="92.5" x2="670.7" y2="92.5" stroke="#10202a" stroke-width="0.65" stroke-dasharray="1.2 0.6" opacity="0.9"/>
<line x1="659.5" y1="94.5" x2="671.9000000000001" y2="94.5" stroke="#10202a" stroke-width="0.65" stroke-dasharray="1.2 0.6" opacity="0.9"/>
<line x1="658.9666666666667" y1="96.5" x2="672.4333333333334" y2="96.5" stroke="#10202a" stroke-width="0.65" stroke-dasharray="1.2 0.6" opacity="0.9"/>
<line x1="658.6" y1="98.5" x2="672.8000000000001" y2="98.5" stroke="#10202a" stroke-width="0.65" stroke-dasharray="1.2 0.6" opacity="0.9"/>
<line x1="658.4000000000001" y1="100.5" x2="673.0" y2="100.5" stroke="#10202a" stroke-width="0.65" stroke-dasharray="1.2 0.6" opacity="0.9"/>
<line x1="658.9000000000001" y1="102.5" x2="672.5" y2="102.5" stroke="#10202a" stroke-width="0.65" stroke-dasharray="1.2 0.6" opacity="0.9"/>
<line x1="660.9909090909091" y1="104.5" x2="670.409090909091" y2="104.5" stroke="#10202a" stroke-width="0.65" stroke-dasharray="1.2 0.6" opacity="0.9"/>
<line x1="663.45" y1="106.5" x2="667.95" y2="106.5" stroke="#10202a" stroke-width="0.65" stroke-dasharray="1.2 0.6" opacity="0.9"/>
<line x1="658.7" y1="97.8000000000003" x2="658.7" y2="101.40000000000035" stroke="#10202a" stroke-width="0.65" stroke-dasharray="1.2 0.6" opacity="0.9"/>
<line x1="660.7" y1="92.60000000000022" x2="660.7" y2="104.20000000000039" stroke="#10202a" stroke-width="0.65" stroke-dasharray="1.2 0.6" opacity="0.9"/>
<line x1="662.7" y1="90.6000000000002" x2="662.7" y2="105.80000000000041" stroke="#10202a" stroke-width="0.65" stroke-dasharray="1.2 0.6" opacity="0.9"/>
<line x1="664.7" y1="79.40000000000003" x2="664.7" y2="107.40000000000043" stroke="#10202a" stroke-width="0.65" stroke-dasharray="1.2 0.6" opacity="0.9"/>
<line x1="666.7" y1="79.40000000000003" x2="666.7" y2="107.40000000000043" stroke="#10202a" stroke-width="0.65" stroke-dasharray="1.2 0.6" opacity="0.9"/>
<line x1="668.7" y1="90.6000000000002" x2="668.7" y2="105.80000000000041" stroke="#10202a" stroke-width="0.65" stroke-dasharray="1.2 0.6" opacity="0.9"/>
<line x1="670.7" y1="92.60000000000022" x2="670.7" y2="104.20000000000039" stroke="#10202a" stroke-width="0.65" stroke-dasharray="1.2 0.6" opacity="0.9"/>
<line x1="672.7" y1="97.8000000000003" x2="672.7" y2="101.40000000000035" stroke="#10202a" stroke-width="0.65" stroke-dasharray="1.2 0.6" opacity="0.9"/>
<line x1="661.1600000000001" y1="91.2" x2="670.24" y2="91.2" stroke="#6b7cf5" stroke-width="0.85" stroke-dasharray="1.6 0.5"/>
<line x1="658.225" y1="102.2" x2="673.1750000000001" y2="102.2" stroke="#6b7cf5" stroke-width="0.85" stroke-dasharray="1.6 0.5"/>
<line x1="49.025000000000006" y1="199" x2="49.025000000000006" y2="272.4" stroke="#dcdcdc" stroke-width="0.8"/>
<line x1="65.85000000000001" y1="199" x2="65.85000000000001" y2="272.4" stroke="#dcdcdc" stroke-width="0.8"/>
<line x1="82.67500000000001" y1="199" x2="82.67500000000001" y2="272.4" stroke="#dcdcdc" stroke-width="0.8"/>
<line x1="99.50000000000001" y1="199" x2="99.50000000000001" y2="272.4" stroke="#dcdcdc" stroke-width="0.8"/>
<line x1="32.2" y1="254.04999999999998" x2="113.3" y2="254.04999999999998" stroke="#dcdcdc" stroke-width="0.8"/>
<line x1="32.2" y1="235.7" x2="113.3" y2="235.7" stroke="#dcdcdc" stroke-width="0.8"/>
<line x1="32.2" y1="217.34999999999997" x2="113.3" y2="217.34999999999997" stroke="#dcdcdc" stroke-width="0.8"/>
<line x1="32.2" y1="198.99999999999997" x2="113.3" y2="198.99999999999997" stroke="#dcdcdc" stroke-width="0.8"/>
<clipPath id="c32"><rect x="32.2" y="199" width="81.1" height="73.39999999999998"/></clipPath><g clip-path="url(#c32)">
<path d="M32.40,238.56 L35.77,237.76 L39.14,236.92 L42.51,236.03 L45.88,235.10 L49.25,234.13 L52.62,233.12 L56.00,232.07 L59.37,230.97 L62.74,229.83 L66.11,228.64 L69.48,227.42 L72.85,226.15 L76.22,224.84 L79.59,223.48 L82.96,222.09 L86.33,220.65 L89.70,219.17 L93.08,217.64 L96.45,216.08 L99.82,214.47 L103.19,212.81 L106.56,211.12 L109.93,209.38 L113.30,207.60 L113.30,219.20 L109.93,219.98 L106.56,220.80 L103.19,221.66 L99.82,222.57 L96.45,223.52 L93.08,224.51 L89.70,225.54 L86.33,226.62 L82.96,227.74 L79.59,228.90 L76.22,230.10 L72.85,231.35 L69.48,232.64 L66.11,233.97 L62.74,235.35 L59.37,236.77 L56.00,238.23 L52.62,239.73 L49.25,241.27 L45.88,242.86 L42.51,244.49 L39.14,246.17 L35.77,247.88 L32.40,249.64Z" fill="#2a9d6e" fill-opacity="0.28"/>
<path d="M32.40,250.93 L34.79,250.99 L37.18,250.97 L39.57,250.87 L41.97,250.70 L44.36,250.46 L46.75,250.13 L49.14,249.73 L51.53,249.25 L53.92,248.70 L56.32,248.07 L58.71,247.37 L61.10,246.59 L63.49,245.73 L65.88,244.79 L68.28,243.78 L70.67,242.70 L73.06,241.53 L75.45,240.29 L77.84,238.98 L80.23,237.59 L82.62,236.12 L85.02,234.58 L87.41,232.96 L89.80,231.26 L89.80,250.74 L87.41,250.49 L85.02,250.31 L82.62,250.21 L80.23,250.18 L77.84,250.23 L75.45,250.36 L73.06,250.56 L70.67,250.84 L68.28,251.19 L65.88,251.62 L63.49,252.13 L61.10,252.71 L58.71,253.37 L56.32,254.11 L53.92,254.92 L51.53,255.81 L49.14,256.78 L46.75,257.82 L44.36,258.94 L41.97,260.13 L39.57,261.40 L37.18,262.75 L34.79,264.17 L32.40,265.67Z" fill="#9a9a9a" fill-opacity="0.22"/>
</g>
<circle cx="34.9" cy="220.3" r="1.55" fill="#fff" stroke="#1a1a1a" stroke-width="0.7"/>
<circle cx="36.4" cy="222.7" r="1.55" fill="#fff" stroke="#1a1a1a" stroke-width="0.7"/>
<circle cx="35.4" cy="231.7" r="1.55" fill="#fff" stroke="#1a1a1a" stroke-width="0.7"/>
<circle cx="42.7" cy="222.5" r="1.55" fill="#9a9a9a" stroke="#1a1a1a" stroke-width="0.7"/>
<circle cx="41.7" cy="228.1" r="1.55" fill="#9a9a9a" stroke="#1a1a1a" stroke-width="0.7"/>
<circle cx="45.7" cy="233.5" r="1.55" fill="#9a9a9a" stroke="#1a1a1a" stroke-width="0.7"/>
<circle cx="45.7" cy="219.0" r="1.55" fill="#9a9a9a" stroke="#1a1a1a" stroke-width="0.7"/>
<circle cx="49.1" cy="224.2" r="1.55" fill="#9a9a9a" stroke="#1a1a1a" stroke-width="0.7"/>
<circle cx="50.5" cy="225.7" r="1.55" fill="#9a9a9a" stroke="#1a1a1a" stroke-width="0.7"/>
<circle cx="51.5" cy="226.8" r="1.55" fill="#9a9a9a" stroke="#1a1a1a" stroke-width="0.7"/>
<circle cx="50.5" cy="217.3" r="1.55" fill="#9a9a9a" stroke="#1a1a1a" stroke-width="0.7"/>
<circle cx="51.0" cy="218.8" r="1.55" fill="#9a9a9a" stroke="#1a1a1a" stroke-width="0.7"/>
<circle cx="53.5" cy="218.6" r="1.55" fill="#9a9a9a" stroke="#1a1a1a" stroke-width="0.7"/>
<circle cx="55.9" cy="219.0" r="1.55" fill="#9a9a9a" stroke="#1a1a1a" stroke-width="0.7"/>
<circle cx="57.4" cy="217.8" r="1.55" fill="#fff" stroke="#1a1a1a" stroke-width="0.7"/>
<circle cx="58.4" cy="219.8" r="1.55" fill="#fff" stroke="#1a1a1a" stroke-width="0.7"/>
<circle cx="56.9" cy="224.2" r="1.55" fill="#fff" stroke="#1a1a1a" stroke-width="0.7"/>
<circle cx="56.4" cy="226.1" r="1.55" fill="#9a9a9a" stroke="#1a1a1a" stroke-width="0.7"/>
<circle cx="61.3" cy="220.8" r="1.55" fill="#fff" stroke="#1a1a1a" stroke-width="0.7"/>
<circle cx="59.4" cy="224.7" r="1.55" fill="#fff" stroke="#1a1a1a" stroke-width="0.7"/>
<circle cx="60.3" cy="228.1" r="1.55" fill="#fff" stroke="#1a1a1a" stroke-width="0.7"/>
<circle cx="62.3" cy="224.7" r="1.55" fill="#fff" stroke="#1a1a1a" stroke-width="0.7"/>
<circle cx="64.7" cy="224.5" r="1.55" fill="#fff" stroke="#1a1a1a" stroke-width="0.7"/>
<circle cx="66.7" cy="223.2" r="1.55" fill="#9a9a9a" stroke="#1a1a1a" stroke-width="0.7"/>
<circle cx="67.2" cy="217.3" r="1.55" fill="#fff" stroke="#1a1a1a" stroke-width="0.7"/>
<circle cx="68.6" cy="217.3" r="1.55" fill="#fff" stroke="#1a1a1a" stroke-width="0.7"/>
<circle cx="70.1" cy="217.3" r="1.55" fill="#fff" stroke="#1a1a1a" stroke-width="0.7"/>
<circle cx="67.7" cy="225.2" r="1.55" fill="#9a9a9a" stroke="#1a1a1a" stroke-width="0.7"/>
<circle cx="69.1" cy="225.7" r="1.55" fill="#9a9a9a" stroke="#1a1a1a" stroke-width="0.7"/>
<circle cx="69.1" cy="228.1" r="1.55" fill="#555" stroke="#1a1a1a" stroke-width="0.7"/>
<circle cx="56.4" cy="231.5" r="1.55" fill="#9a9a9a" stroke="#1a1a1a" stroke-width="0.7"/>
<circle cx="57.9" cy="233.0" r="1.55" fill="#9a9a9a" stroke="#1a1a1a" stroke-width="0.7"/>
<circle cx="59.8" cy="234.0" r="1.55" fill="#555" stroke="#1a1a1a" stroke-width="0.7"/>
<circle cx="60.3" cy="235.4" r="1.55" fill="#555" stroke="#1a1a1a" stroke-width="0.7"/>
<circle cx="73.1" cy="222.7" r="1.55" fill="#fff" stroke="#1a1a1a" stroke-width="0.7"/>
<circle cx="71.0" cy="217.2" r="1.55" fill="#fff" stroke="#1a1a1a" stroke-width="0.7"/>
<circle cx="73.9" cy="217.2" r="1.55" fill="#fff" stroke="#1a1a1a" stroke-width="0.7"/>
<circle cx="76.4" cy="217.2" r="1.55" fill="#fff" stroke="#1a1a1a" stroke-width="0.7"/>
<circle cx="82.2" cy="217.2" r="1.55" fill="#fff" stroke="#1a1a1a" stroke-width="0.7"/>
<circle cx="84.7" cy="217.2" r="1.55" fill="#fff" stroke="#1a1a1a" stroke-width="0.7"/>
<circle cx="90.0" cy="217.2" r="1.55" fill="#fff" stroke="#1a1a1a" stroke-width="0.7"/>
<circle cx="100.3" cy="216.7" r="1.55" fill="#fff" stroke="#1a1a1a" stroke-width="0.7"/>
<circle cx="107.2" cy="217.2" r="1.55" fill="#fff" stroke="#1a1a1a" stroke-width="0.7"/>
<circle cx="74.9" cy="223.1" r="1.55" fill="#9a9a9a" stroke="#1a1a1a" stroke-width="0.7"/>
<circle cx="76.8" cy="222.6" r="1.55" fill="#9a9a9a" stroke="#1a1a1a" stroke-width="0.7"/>
<circle cx="78.8" cy="220.7" r="1.55" fill="#fff" stroke="#1a1a1a" stroke-width="0.7"/>
<circle cx="81.7" cy="222.6" r="1.55" fill="#fff" stroke="#1a1a1a" stroke-width="0.7"/>
<circle cx="84.2" cy="220.7" r="1.55" fill="#fff" stroke="#1a1a1a" stroke-width="0.7"/>
<circle cx="88.1" cy="220.7" r="1.55" fill="#fff" stroke="#1a1a1a" stroke-width="0.7"/>
<circle cx="98.4" cy="222.6" r="1.55" fill="#555" stroke="#1a1a1a" stroke-width="0.7"/>
<circle cx="98.4" cy="223.4" r="1.55" fill="#555" stroke="#1a1a1a" stroke-width="0.7"/>
<circle cx="82.2" cy="231.4" r="1.55" fill="#9a9a9a" stroke="#1a1a1a" stroke-width="0.7"/>
<circle cx="70.0" cy="224.6" r="1.55" fill="#9a9a9a" stroke="#1a1a1a" stroke-width="0.7"/>
<circle cx="41.1" cy="243.5" r="1.55" fill="#222" stroke="#1a1a1a" stroke-width="0.7"/>
<circle cx="47.0" cy="243.1" r="1.55" fill="#222" stroke="#1a1a1a" stroke-width="0.7"/>
<circle cx="45.0" cy="247.0" r="1.55" fill="#222" stroke="#1a1a1a" stroke-width="0.7"/>
<circle cx="51.5" cy="244.8" r="1.55" fill="#222" stroke="#1a1a1a" stroke-width="0.7"/>
<circle cx="53.5" cy="244.8" r="1.55" fill="#222" stroke="#1a1a1a" stroke-width="0.7"/>
<circle cx="55.4" cy="244.4" r="1.55" fill="#222" stroke="#1a1a1a" stroke-width="0.7"/>
<circle cx="56.7" cy="244.8" r="1.55" fill="#222" stroke="#1a1a1a" stroke-width="0.7"/>
<circle cx="56.1" cy="241.5" r="1.55" fill="#9a9a9a" stroke="#1a1a1a" stroke-width="0.7"/>
<circle cx="64.5" cy="241.3" r="1.55" fill="#222" stroke="#1a1a1a" stroke-width="0.7"/>
<circle cx="39.1" cy="252.6" r="1.55" fill="#222" stroke="#1a1a1a" stroke-width="0.7"/>
<circle cx="40.4" cy="252.6" r="1.55" fill="#222" stroke="#1a1a1a" stroke-width="0.7"/>
<circle cx="42.0" cy="252.6" r="1.55" fill="#222" stroke="#1a1a1a" stroke-width="0.7"/>
<circle cx="47.0" cy="254.3" r="1.55" fill="#222" stroke="#1a1a1a" stroke-width="0.7"/>
<circle cx="52.8" cy="252.2" r="1.55" fill="#222" stroke="#1a1a1a" stroke-width="0.7"/>
<circle cx="59.3" cy="250.4" r="1.55" fill="#222" stroke="#1a1a1a" stroke-width="0.7"/>
<circle cx="32.6" cy="259.1" r="1.55" fill="#222" stroke="#1a1a1a" stroke-width="0.7"/>
<circle cx="37.8" cy="257.8" r="1.55" fill="#222" stroke="#1a1a1a" stroke-width="0.7"/>
<circle cx="43.0" cy="257.8" r="1.55" fill="#222" stroke="#1a1a1a" stroke-width="0.7"/>
<circle cx="32.0" cy="263.0" r="1.55" fill="#222" stroke="#1a1a1a" stroke-width="0.7"/>
<circle cx="37.2" cy="265.6" r="1.55" fill="#222" stroke="#1a1a1a" stroke-width="0.7"/>
<circle cx="56.1" cy="259.5" r="1.55" fill="#222" stroke="#1a1a1a" stroke-width="0.7"/>
<circle cx="57.4" cy="257.8" r="1.55" fill="#222" stroke="#1a1a1a" stroke-width="0.7"/>
<circle cx="62.6" cy="258.2" r="1.55" fill="#222" stroke="#1a1a1a" stroke-width="0.7"/>
<circle cx="73.7" cy="254.3" r="1.55" fill="#222" stroke="#1a1a1a" stroke-width="0.7"/>
<circle cx="35.2" cy="272.2" r="1.55" fill="#222" stroke="#1a1a1a" stroke-width="0.7"/>
<circle cx="39.8" cy="272.2" r="1.55" fill="#222" stroke="#1a1a1a" stroke-width="0.7"/>
<circle cx="56.1" cy="272.2" r="1.55" fill="#222" stroke="#1a1a1a" stroke-width="0.7"/>
<circle cx="82.5" cy="231.8" r="1.55" fill="#9a9a9a" stroke="#1a1a1a" stroke-width="0.7"/>
<circle cx="79.5" cy="241.0" r="1.55" fill="#9a9a9a" stroke="#1a1a1a" stroke-width="0.7"/>
<circle cx="89.8" cy="241.0" r="1.55" fill="#222" stroke="#1a1a1a" stroke-width="0.7"/>
<circle cx="75.9" cy="250.5" r="1.55" fill="#222" stroke="#1a1a1a" stroke-width="0.7"/>
<circle cx="74.4" cy="254.2" r="1.55" fill="#222" stroke="#1a1a1a" stroke-width="0.7"/>
<line x1="32.4" y1="244.1" x2="113.3" y2="213.4" stroke="#1f9a68" stroke-width="1.1"/>
<line x1="32.4" y1="258.3" x2="89.8" y2="241.0" stroke="#222" stroke-width="1.1"/>
<line x1="32.2" y1="199" x2="32.2" y2="276.2" stroke="#222" stroke-width="1.2"/>
<line x1="32.2" y1="272.4" x2="113.3" y2="272.4" stroke="#222" stroke-width="1.2"/>
<line x1="32.2" y1="198.99999999999997" x2="35.7" y2="198.99999999999997" stroke="#222" stroke-width="1.2"/>
<text x="29.700000000000003" y="202.99999999999997" font-size="11.1" text-anchor="end" fill="#1a1a1a">40</text>
<line x1="32.2" y1="217.34999999999997" x2="35.7" y2="217.34999999999997" stroke="#222" stroke-width="1.2"/>
<text x="29.700000000000003" y="221.34999999999997" font-size="11.1" text-anchor="end" fill="#1a1a1a">30</text>
<line x1="32.2" y1="235.7" x2="35.7" y2="235.7" stroke="#222" stroke-width="1.2"/>
<text x="29.700000000000003" y="239.7" font-size="11.1" text-anchor="end" fill="#1a1a1a">20</text>
<line x1="32.2" y1="254.04999999999998" x2="35.7" y2="254.04999999999998" stroke="#222" stroke-width="1.2"/>
<text x="29.700000000000003" y="258.04999999999995" font-size="11.1" text-anchor="end" fill="#1a1a1a">10</text>
<line x1="32.2" y1="272.4" x2="35.7" y2="272.4" stroke="#222" stroke-width="1.2"/>
<text x="29.700000000000003" y="276.4" font-size="11.1" text-anchor="end" fill="#1a1a1a">0</text>
<line x1="32.2" y1="272.4" x2="32.2" y2="276.4" stroke="#222" stroke-width="1.2"/>
<text x="32.2" y="288.1" font-size="10.9" text-anchor="middle" fill="#1a1a1a">0</text>
<line x1="65.85000000000001" y1="272.4" x2="65.85000000000001" y2="276.4" stroke="#222" stroke-width="1.2"/>
<text x="65.85000000000001" y="288.1" font-size="10.9" text-anchor="middle" fill="#1a1a1a">50</text>
<line x1="99.50000000000001" y1="272.4" x2="99.50000000000001" y2="276.4" stroke="#222" stroke-width="1.2"/>
<text x="99.50000000000001" y="288.1" font-size="10.9" text-anchor="middle" fill="#1a1a1a">100</text>
<line x1="49.025000000000006" y1="272.4" x2="49.025000000000006" y2="274.79999999999995" stroke="#222" stroke-width="1.2"/>
<line x1="82.67500000000001" y1="272.4" x2="82.67500000000001" y2="274.79999999999995" stroke="#222" stroke-width="1.2"/>
<text x="35.9" y="304.7" font-size="11.0" text-anchor="start" fill="#1a1a1a">24-HC (ng/mL)</text>
<rect x="104.2" y="236.3" width="32.7" height="31.2" rx="3.5" fill="#fff" stroke="#222" stroke-width="1.1"/>
<circle cx="110.3" cy="242.1" r="2.9" fill="#fff" stroke="#222" stroke-width="1"/>
<circle cx="110.3" cy="252.2" r="2.9" fill="#9a9a9a" stroke="#222" stroke-width="1"/>
<circle cx="110.3" cy="262.2" r="2.9" fill="#333" stroke="#222" stroke-width="1"/>
<text x="116.0" y="245.8" font-size="10.8" text-anchor="start" fill="#1a1a1a">Ctrl</text>
<text x="116.0" y="255.9" font-size="10.8" text-anchor="start" fill="#1a1a1a">MCI</text>
<text x="116.0" y="265.9" font-size="10.8" text-anchor="start" fill="#1a1a1a">AD</text>
<line x1="195.17499999999998" y1="199.3" x2="195.17499999999998" y2="273.0" stroke="#dcdcdc" stroke-width="0.8"/>
<line x1="212.14999999999998" y1="199.3" x2="212.14999999999998" y2="273.0" stroke="#dcdcdc" stroke-width="0.8"/>
<line x1="229.125" y1="199.3" x2="229.125" y2="273.0" stroke="#dcdcdc" stroke-width="0.8"/>
<line x1="246.1" y1="199.3" x2="246.1" y2="273.0" stroke="#dcdcdc" stroke-width="0.8"/>
<line x1="178.2" y1="254.7" x2="260.2" y2="254.7" stroke="#dcdcdc" stroke-width="0.8"/>
<line x1="178.2" y1="236.4" x2="260.2" y2="236.4" stroke="#dcdcdc" stroke-width="0.8"/>
<line x1="178.2" y1="218.1" x2="260.2" y2="218.1" stroke="#dcdcdc" stroke-width="0.8"/>
<line x1="178.2" y1="199.8" x2="260.2" y2="199.8" stroke="#dcdcdc" stroke-width="0.8"/>
<clipPath id="c178"><rect x="178.2" y="199.3" width="82.0" height="73.69999999999999"/></clipPath><g clip-path="url(#c178)">
<path d="M178.20,246.78 L181.62,245.77 L185.03,244.71 L188.45,243.61 L191.87,242.46 L195.28,241.26 L198.70,240.02 L202.12,238.73 L205.53,237.40 L208.95,236.02 L212.37,234.59 L215.78,233.12 L219.20,231.60 L222.62,230.03 L226.03,228.42 L229.45,226.76 L232.87,225.06 L236.28,223.31 L239.70,221.51 L243.12,219.67 L246.53,217.78 L249.95,215.84 L253.37,213.86 L256.78,211.83 L260.20,209.76 L260.20,226.64 L256.78,227.27 L253.37,227.94 L249.95,228.66 L246.53,229.42 L243.12,230.23 L239.70,231.09 L236.28,231.99 L232.87,232.94 L229.45,233.94 L226.03,234.98 L222.62,236.07 L219.20,237.20 L215.78,238.38 L212.37,239.61 L208.95,240.88 L205.53,242.20 L202.12,243.57 L198.70,244.98 L195.28,246.44 L191.87,247.94 L188.45,249.49 L185.03,251.09 L181.62,252.73 L178.20,254.42Z" fill="#2a9d6e" fill-opacity="0.28"/>
<path d="M178.20,258.80 L180.58,258.73 L182.96,258.59 L185.34,258.39 L187.72,258.12 L190.10,257.79 L192.47,257.40 L194.85,256.95 L197.23,256.43 L199.61,255.85 L201.99,255.21 L204.37,254.50 L206.75,253.73 L209.13,252.90 L211.51,252.00 L213.89,251.05 L216.27,250.03 L218.65,248.94 L221.03,247.80 L223.40,246.59 L225.78,245.32 L228.16,243.98 L230.54,242.58 L232.92,241.12 L235.30,239.60 L235.30,254.80 L232.92,254.78 L230.54,254.83 L228.16,254.94 L225.78,255.12 L223.40,255.35 L221.03,255.65 L218.65,256.01 L216.27,256.44 L213.89,256.92 L211.51,257.47 L209.13,258.09 L206.75,258.76 L204.37,259.50 L201.99,260.31 L199.61,261.17 L197.23,262.10 L194.85,263.09 L192.47,264.14 L190.10,265.26 L187.72,266.44 L185.34,267.68 L182.96,268.99 L180.58,270.35 L178.20,271.79Z" fill="#9a9a9a" fill-opacity="0.22"/>
</g>
<circle cx="181.3" cy="226.6" r="1.55" fill="#fff" stroke="#1a1a1a" stroke-width="0.7"/>
<circle cx="182.4" cy="234.0" r="1.55" fill="#fff" stroke="#1a1a1a" stroke-width="0.7"/>
<circle cx="188.1" cy="232.3" r="1.55" fill="#9a9a9a" stroke="#1a1a1a" stroke-width="0.7"/>
<circle cx="189.8" cy="238.0" r="1.55" fill="#9a9a9a" stroke="#1a1a1a" stroke-width="0.7"/>
<circle cx="192.1" cy="235.8" r="1.55" fill="#9a9a9a" stroke="#1a1a1a" stroke-width="0.7"/>
<circle cx="192.1" cy="225.5" r="1.55" fill="#fff" stroke="#1a1a1a" stroke-width="0.7"/>
<circle cx="194.9" cy="229.5" r="1.55" fill="#9a9a9a" stroke="#1a1a1a" stroke-width="0.7"/>
<circle cx="196.1" cy="230.6" r="1.55" fill="#9a9a9a" stroke="#1a1a1a" stroke-width="0.7"/>
<circle cx="196.1" cy="223.0" r="1.55" fill="#fff" stroke="#1a1a1a" stroke-width="0.7"/>
<circle cx="198.3" cy="222.7" r="1.55" fill="#fff" stroke="#1a1a1a" stroke-width="0.7"/>
<circle cx="197.8" cy="217.8" r="1.55" fill="#fff" stroke="#1a1a1a" stroke-width="0.7"/>
<circle cx="202.3" cy="219.2" r="1.55" fill="#9a9a9a" stroke="#1a1a1a" stroke-width="0.7"/>
<circle cx="202.9" cy="226.6" r="1.55" fill="#fff" stroke="#1a1a1a" stroke-width="0.7"/>
<circle cx="204.6" cy="224.9" r="1.55" fill="#fff" stroke="#1a1a1a" stroke-width="0.7"/>
<circle cx="207.5" cy="223.0" r="1.55" fill="#fff" stroke="#1a1a1a" stroke-width="0.7"/>
<circle cx="203.5" cy="232.9" r="1.55" fill="#9a9a9a" stroke="#1a1a1a" stroke-width="0.7"/>
<circle cx="205.2" cy="231.8" r="1.55" fill="#9a9a9a" stroke="#1a1a1a" stroke-width="0.7"/>
<circle cx="206.9" cy="230.1" r="1.55" fill="#9a9a9a" stroke="#1a1a1a" stroke-width="0.7"/>
<circle cx="208.0" cy="234.0" r="1.55" fill="#9a9a9a" stroke="#1a1a1a" stroke-width="0.7"/>
<circle cx="202.9" cy="235.8" r="1.55" fill="#9a9a9a" stroke="#1a1a1a" stroke-width="0.7"/>
<circle cx="211.4" cy="230.6" r="1.55" fill="#9a9a9a" stroke="#1a1a1a" stroke-width="0.7"/>
<circle cx="212.6" cy="221.5" r="1.55" fill="#fff" stroke="#1a1a1a" stroke-width="0.7"/>
<circle cx="214.3" cy="222.7" r="1.55" fill="#fff" stroke="#1a1a1a" stroke-width="0.7"/>
<circle cx="216.0" cy="222.1" r="1.55" fill="#fff" stroke="#1a1a1a" stroke-width="0.7"/>
<circle cx="213.2" cy="223.8" r="1.55" fill="#fff" stroke="#1a1a1a" stroke-width="0.7"/>
<circle cx="217.1" cy="224.9" r="1.55" fill="#fff" stroke="#1a1a1a" stroke-width="0.7"/>
<circle cx="216.7" cy="221.0" r="1.55" fill="#fff" stroke="#1a1a1a" stroke-width="0.7"/>
<circle cx="217.3" cy="225.0" r="1.55" fill="#fff" stroke="#1a1a1a" stroke-width="0.7"/>
<circle cx="221.8" cy="217.5" r="1.55" fill="#9a9a9a" stroke="#1a1a1a" stroke-width="0.7"/>
<circle cx="222.4" cy="219.3" r="1.55" fill="#9a9a9a" stroke="#1a1a1a" stroke-width="0.7"/>
<circle cx="226.4" cy="219.3" r="1.55" fill="#fff" stroke="#1a1a1a" stroke-width="0.7"/>
<circle cx="228.7" cy="219.3" r="1.55" fill="#fff" stroke="#1a1a1a" stroke-width="0.7"/>
<circle cx="229.8" cy="220.4" r="1.55" fill="#9a9a9a" stroke="#1a1a1a" stroke-width="0.7"/>
<circle cx="233.2" cy="219.3" r="1.55" fill="#fff" stroke="#1a1a1a" stroke-width="0.7"/>
<circle cx="236.1" cy="221.0" r="1.55" fill="#fff" stroke="#1a1a1a" stroke-width="0.7"/>
<circle cx="221.3" cy="226.7" r="1.55" fill="#9a9a9a" stroke="#1a1a1a" stroke-width="0.7"/>
<circle cx="223.6" cy="226.7" r="1.55" fill="#555" stroke="#1a1a1a" stroke-width="0.7"/>
<circle cx="224.7" cy="226.7" r="1.55" fill="#555" stroke="#1a1a1a" stroke-width="0.7"/>
<circle cx="228.7" cy="226.7" r="1.55" fill="#fff" stroke="#1a1a1a" stroke-width="0.7"/>
<circle cx="220.7" cy="232.4" r="1.55" fill="#9a9a9a" stroke="#1a1a1a" stroke-width="0.7"/>
<circle cx="223.0" cy="232.4" r="1.55" fill="#9a9a9a" stroke="#1a1a1a" stroke-width="0.7"/>
<circle cx="243.5" cy="225.5" r="1.55" fill="#9a9a9a" stroke="#1a1a1a" stroke-width="0.7"/>
<circle cx="246.4" cy="221.0" r="1.55" fill="#fff" stroke="#1a1a1a" stroke-width="0.7"/>
<circle cx="253.2" cy="225.0" r="1.55" fill="#fff" stroke="#1a1a1a" stroke-width="0.7"/>
<circle cx="244.6" cy="234.4" r="1.55" fill="#fff" stroke="#1a1a1a" stroke-width="0.7"/>
<circle cx="244.1" cy="239.2" r="1.55" fill="#9a9a9a" stroke="#1a1a1a" stroke-width="0.7"/>
<circle cx="189.7" cy="237.8" r="1.55" fill="#9a9a9a" stroke="#1a1a1a" stroke-width="0.7"/>
<circle cx="191.8" cy="236.4" r="1.55" fill="#9a9a9a" stroke="#1a1a1a" stroke-width="0.7"/>
<circle cx="203.0" cy="236.4" r="1.55" fill="#9a9a9a" stroke="#1a1a1a" stroke-width="0.7"/>
<circle cx="205.2" cy="236.4" r="1.55" fill="#9a9a9a" stroke="#1a1a1a" stroke-width="0.7"/>
<circle cx="180.6" cy="249.0" r="1.55" fill="#fff" stroke="#1a1a1a" stroke-width="0.7"/>
<circle cx="201.0" cy="241.3" r="1.55" fill="#9a9a9a" stroke="#1a1a1a" stroke-width="0.7"/>
<circle cx="203.0" cy="241.3" r="1.55" fill="#9a9a9a" stroke="#1a1a1a" stroke-width="0.7"/>
<circle cx="205.2" cy="241.3" r="1.55" fill="#9a9a9a" stroke="#1a1a1a" stroke-width="0.7"/>
<circle cx="203.8" cy="245.1" r="1.55" fill="#9a9a9a" stroke="#1a1a1a" stroke-width="0.7"/>
<circle cx="215.0" cy="243.7" r="1.55" fill="#9a9a9a" stroke="#1a1a1a" stroke-width="0.7"/>
<circle cx="179.9" cy="254.6" r="1.55" fill="#222" stroke="#1a1a1a" stroke-width="0.7"/>
<circle cx="183.4" cy="258.1" r="1.55" fill="#222" stroke="#1a1a1a" stroke-width="0.7"/>
<circle cx="186.9" cy="256.7" r="1.55" fill="#222" stroke="#1a1a1a" stroke-width="0.7"/>
<circle cx="187.6" cy="260.2" r="1.55" fill="#222" stroke="#1a1a1a" stroke-width="0.7"/>
<circle cx="189.0" cy="261.6" r="1.55" fill="#222" stroke="#1a1a1a" stroke-width="0.7"/>
<circle cx="191.1" cy="256.7" r="1.55" fill="#222" stroke="#1a1a1a" stroke-width="0.7"/>
<circle cx="193.2" cy="254.6" r="1.55" fill="#222" stroke="#1a1a1a" stroke-width="0.7"/>
<circle cx="198.1" cy="254.6" r="1.55" fill="#222" stroke="#1a1a1a" stroke-width="0.7"/>
<circle cx="200.2" cy="253.0" r="1.55" fill="#222" stroke="#1a1a1a" stroke-width="0.7"/>
<circle cx="200.9" cy="256.0" r="1.55" fill="#222" stroke="#1a1a1a" stroke-width="0.7"/>
<circle cx="202.3" cy="257.4" r="1.55" fill="#222" stroke="#1a1a1a" stroke-width="0.7"/>
<circle cx="203.8" cy="258.8" r="1.55" fill="#222" stroke="#1a1a1a" stroke-width="0.7"/>
<circle cx="202.3" cy="260.9" r="1.55" fill="#222" stroke="#1a1a1a" stroke-width="0.7"/>
<circle cx="205.2" cy="257.4" r="1.55" fill="#222" stroke="#1a1a1a" stroke-width="0.7"/>
<circle cx="208.7" cy="260.2" r="1.55" fill="#222" stroke="#1a1a1a" stroke-width="0.7"/>
<circle cx="210.8" cy="251.1" r="1.55" fill="#222" stroke="#1a1a1a" stroke-width="0.7"/>
<circle cx="183.4" cy="264.5" r="1.55" fill="#222" stroke="#1a1a1a" stroke-width="0.7"/>
<circle cx="185.5" cy="268.0" r="1.55" fill="#222" stroke="#1a1a1a" stroke-width="0.7"/>
<circle cx="193.2" cy="265.6" r="1.55" fill="#222" stroke="#1a1a1a" stroke-width="0.7"/>
<circle cx="178.5" cy="268.0" r="1.55" fill="#222" stroke="#1a1a1a" stroke-width="0.7"/>
<circle cx="179.2" cy="272.2" r="1.55" fill="#222" stroke="#1a1a1a" stroke-width="0.7"/>
<circle cx="181.3" cy="272.9" r="1.55" fill="#222" stroke="#1a1a1a" stroke-width="0.7"/>
<circle cx="186.2" cy="272.9" r="1.55" fill="#222" stroke="#1a1a1a" stroke-width="0.7"/>
<circle cx="202.3" cy="272.9" r="1.55" fill="#222" stroke="#1a1a1a" stroke-width="0.7"/>
<circle cx="219.9" cy="261.6" r="1.55" fill="#222" stroke="#1a1a1a" stroke-width="0.7"/>
<circle cx="243.9" cy="240.2" r="1.55" fill="#9a9a9a" stroke="#1a1a1a" stroke-width="0.7"/>
<circle cx="215.8" cy="243.8" r="1.55" fill="#9a9a9a" stroke="#1a1a1a" stroke-width="0.7"/>
<circle cx="225.9" cy="245.3" r="1.55" fill="#9a9a9a" stroke="#1a1a1a" stroke-width="0.7"/>
<circle cx="228.3" cy="243.8" r="1.55" fill="#9a9a9a" stroke="#1a1a1a" stroke-width="0.7"/>
<circle cx="235.3" cy="243.8" r="1.55" fill="#222" stroke="#1a1a1a" stroke-width="0.7"/>
<circle cx="221.6" cy="256.6" r="1.55" fill="#222" stroke="#1a1a1a" stroke-width="0.7"/>
<circle cx="220.5" cy="262.5" r="1.55" fill="#222" stroke="#1a1a1a" stroke-width="0.7"/>
<circle cx="220.5" cy="232.8" r="1.55" fill="#9a9a9a" stroke="#1a1a1a" stroke-width="0.7"/>
<circle cx="222.0" cy="232.3" r="1.55" fill="#9a9a9a" stroke="#1a1a1a" stroke-width="0.7"/>
<line x1="178.2" y1="250.6" x2="260.2" y2="218.2" stroke="#1f9a68" stroke-width="1.1"/>
<line x1="178.2" y1="265.2" x2="235.3" y2="247.2" stroke="#222" stroke-width="1.1"/>
<line x1="178.2" y1="199.3" x2="178.2" y2="276.5" stroke="#222" stroke-width="1.2"/>
<line x1="178.2" y1="273.0" x2="260.2" y2="273.0" stroke="#222" stroke-width="1.2"/>
<line x1="178.2" y1="199.8" x2="181.7" y2="199.8" stroke="#222" stroke-width="1.2"/>
<text x="175.7" y="203.8" font-size="11.1" text-anchor="end" fill="#1a1a1a">40</text>
<line x1="178.2" y1="218.1" x2="181.7" y2="218.1" stroke="#222" stroke-width="1.2"/>
<text x="175.7" y="222.1" font-size="11.1" text-anchor="end" fill="#1a1a1a">30</text>
<line x1="178.2" y1="236.4" x2="181.7" y2="236.4" stroke="#222" stroke-width="1.2"/>
<text x="175.7" y="240.4" font-size="11.1" text-anchor="end" fill="#1a1a1a">20</text>
<line x1="178.2" y1="254.7" x2="181.7" y2="254.7" stroke="#222" stroke-width="1.2"/>
<text x="175.7" y="258.7" font-size="11.1" text-anchor="end" fill="#1a1a1a">10</text>
<line x1="178.2" y1="273.0" x2="181.7" y2="273.0" stroke="#222" stroke-width="1.2"/>
<text x="175.7" y="277.0" font-size="11.1" text-anchor="end" fill="#1a1a1a">0</text>
<line x1="178.2" y1="273.0" x2="178.2" y2="277.0" stroke="#222" stroke-width="1.2"/>
<text x="178.2" y="288.1" font-size="10.9" text-anchor="middle" fill="#1a1a1a">0</text>
<line x1="212.14999999999998" y1="273.0" x2="212.14999999999998" y2="277.0" stroke="#222" stroke-width="1.2"/>
<text x="212.14999999999998" y="288.1" font-size="10.9" text-anchor="middle" fill="#1a1a1a">50</text>
<line x1="246.1" y1="273.0" x2="246.1" y2="277.0" stroke="#222" stroke-width="1.2"/>
<text x="246.1" y="288.1" font-size="10.9" text-anchor="middle" fill="#1a1a1a">100</text>
<line x1="195.17499999999998" y1="273.0" x2="195.17499999999998" y2="275.4" stroke="#222" stroke-width="1.2"/>
<line x1="229.125" y1="273.0" x2="229.125" y2="275.4" stroke="#222" stroke-width="1.2"/>
<text x="182.2" y="304.7" font-size="11.0" text-anchor="start" fill="#1a1a1a">24-HC (ng/mL)</text>
<line x1="336.15" y1="199.4" x2="336.15" y2="273.1" stroke="#dcdcdc" stroke-width="0.8"/>
<line x1="353.1" y1="199.4" x2="353.1" y2="273.1" stroke="#dcdcdc" stroke-width="0.8"/>
<line x1="370.05" y1="199.4" x2="370.05" y2="273.1" stroke="#dcdcdc" stroke-width="0.8"/>
<line x1="387.0" y1="199.4" x2="387.0" y2="273.1" stroke="#dcdcdc" stroke-width="0.8"/>
<line x1="319.2" y1="260.77500000000003" x2="400.2" y2="260.77500000000003" stroke="#dcdcdc" stroke-width="0.8"/>
<line x1="319.2" y1="248.45000000000002" x2="400.2" y2="248.45000000000002" stroke="#dcdcdc" stroke-width="0.8"/>
<line x1="319.2" y1="236.12500000000003" x2="400.2" y2="236.12500000000003" stroke="#dcdcdc" stroke-width="0.8"/>
<line x1="319.2" y1="223.8" x2="400.2" y2="223.8" stroke="#dcdcdc" stroke-width="0.8"/>
<line x1="319.2" y1="211.47500000000002" x2="400.2" y2="211.47500000000002" stroke="#dcdcdc" stroke-width="0.8"/>
<line x1="319.2" y1="199.15000000000003" x2="400.2" y2="199.15000000000003" stroke="#dcdcdc" stroke-width="0.8"/>
<clipPath id="c319"><rect x="319.2" y="199.4" width="81.0" height="73.70000000000002"/></clipPath><g clip-path="url(#c319)">
<path d="M319.20,233.92 L322.57,233.61 L325.95,233.27 L329.32,232.92 L332.70,232.54 L336.07,232.13 L339.45,231.71 L342.82,231.26 L346.20,230.79 L349.57,230.30 L352.95,229.78 L356.32,229.24 L359.70,228.68 L363.07,228.09 L366.45,227.49 L369.82,226.86 L373.20,226.20 L376.57,225.53 L379.95,224.83 L383.32,224.11 L386.70,223.36 L390.07,222.59 L393.45,221.80 L396.82,220.99 L400.20,220.16 L400.20,227.04 L396.82,227.29 L393.45,227.56 L390.07,227.86 L386.70,228.17 L383.32,228.51 L379.95,228.87 L376.57,229.26 L373.20,229.66 L369.82,230.09 L366.45,230.55 L363.07,231.02 L359.70,231.52 L356.32,232.04 L352.95,232.59 L349.57,233.15 L346.20,233.74 L342.82,234.36 L339.45,234.99 L336.07,235.65 L332.70,236.33 L329.32,237.03 L325.95,237.76 L322.57,238.51 L319.20,239.28Z" fill="#2a9d6e" fill-opacity="0.3"/>
<path d="M319.20,235.00 L321.61,234.90 L324.02,234.78 L326.43,234.62 L328.83,234.43 L331.24,234.22 L333.65,233.97 L336.06,233.70 L338.47,233.39 L340.88,233.06 L343.28,232.69 L345.69,232.30 L348.10,231.88 L350.51,231.42 L352.92,230.94 L355.32,230.43 L357.73,229.89 L360.14,229.32 L362.55,228.71 L364.96,228.08 L367.37,227.42 L369.77,226.73 L372.18,226.01 L374.59,225.27 L377.00,224.49 L377.00,232.71 L374.59,232.73 L372.18,232.79 L369.77,232.87 L367.37,232.98 L364.96,233.12 L362.55,233.29 L360.14,233.48 L357.73,233.71 L355.32,233.97 L352.92,234.26 L350.51,234.58 L348.10,234.92 L345.69,235.30 L343.28,235.71 L340.88,236.14 L338.47,236.61 L336.06,237.10 L333.65,237.63 L331.24,238.18 L328.83,238.77 L326.43,239.38 L324.02,240.02 L321.61,240.70 L319.20,241.40Z" fill="#9a9a9a" fill-opacity="0.22"/>
</g>
<circle cx="356.8" cy="208.9" r="1.55" fill="#9a9a9a" stroke="#1a1a1a" stroke-width="0.7"/>
<circle cx="321.6" cy="229.0" r="1.55" fill="#fff" stroke="#1a1a1a" stroke-width="0.7"/>
<circle cx="330.4" cy="227.6" r="1.55" fill="#9a9a9a" stroke="#1a1a1a" stroke-width="0.7"/>
<circle cx="332.9" cy="227.6" r="1.55" fill="#9a9a9a" stroke="#1a1a1a" stroke-width="0.7"/>
<circle cx="338.5" cy="224.0" r="1.55" fill="#fff" stroke="#1a1a1a" stroke-width="0.7"/>
<circle cx="346.5" cy="220.2" r="1.55" fill="#9a9a9a" stroke="#1a1a1a" stroke-width="0.7"/>
<circle cx="345.1" cy="225.5" r="1.55" fill="#9a9a9a" stroke="#1a1a1a" stroke-width="0.7"/>
<circle cx="352.8" cy="222.9" r="1.55" fill="#fff" stroke="#1a1a1a" stroke-width="0.7"/>
<circle cx="356.8" cy="225.1" r="1.55" fill="#9a9a9a" stroke="#1a1a1a" stroke-width="0.7"/>
<circle cx="358.3" cy="223.6" r="1.55" fill="#9a9a9a" stroke="#1a1a1a" stroke-width="0.7"/>
<circle cx="353.9" cy="228.7" r="1.55" fill="#9a9a9a" stroke="#1a1a1a" stroke-width="0.7"/>
<circle cx="326.7" cy="233.4" r="1.55" fill="#9a9a9a" stroke="#1a1a1a" stroke-width="0.7"/>
<circle cx="329.7" cy="232.4" r="1.55" fill="#9a9a9a" stroke="#1a1a1a" stroke-width="0.7"/>
<circle cx="338.5" cy="230.9" r="1.55" fill="#222" stroke="#1a1a1a" stroke-width="0.7"/>
<circle cx="343.6" cy="230.9" r="1.55" fill="#9a9a9a" stroke="#1a1a1a" stroke-width="0.7"/>
<circle cx="348.0" cy="229.9" r="1.55" fill="#555" stroke="#1a1a1a" stroke-width="0.7"/>
<circle cx="323.8" cy="236.1" r="1.55" fill="#9a9a9a" stroke="#1a1a1a" stroke-width="0.7"/>
<circle cx="335.5" cy="236.1" r="1.55" fill="#9a9a9a" stroke="#1a1a1a" stroke-width="0.7"/>
<circle cx="319.4" cy="237.5" r="1.55" fill="#9a9a9a" stroke="#1a1a1a" stroke-width="0.7"/>
<circle cx="339.2" cy="238.3" r="1.55" fill="#9a9a9a" stroke="#1a1a1a" stroke-width="0.7"/>
<circle cx="344.3" cy="237.5" r="1.55" fill="#9a9a9a" stroke="#1a1a1a" stroke-width="0.7"/>
<circle cx="356.0" cy="237.5" r="1.55" fill="#9a9a9a" stroke="#1a1a1a" stroke-width="0.7"/>
<circle cx="393.8" cy="218.7" r="1.55" fill="#fff" stroke="#1a1a1a" stroke-width="0.7"/>
<circle cx="363.1" cy="219.8" r="1.55" fill="#9a9a9a" stroke="#1a1a1a" stroke-width="0.7"/>
<circle cx="363.1" cy="222.0" r="1.55" fill="#9a9a9a" stroke="#1a1a1a" stroke-width="0.7"/>
<circle cx="357.9" cy="223.4" r="1.55" fill="#9a9a9a" stroke="#1a1a1a" stroke-width="0.7"/>
<circle cx="359.4" cy="225.2" r="1.55" fill="#555" stroke="#1a1a1a" stroke-width="0.7"/>
<circle cx="361.6" cy="226.1" r="1.55" fill="#555" stroke="#1a1a1a" stroke-width="0.7"/>
<circle cx="363.8" cy="225.6" r="1.55" fill="#9a9a9a" stroke="#1a1a1a" stroke-width="0.7"/>
<circle cx="365.2" cy="227.1" r="1.55" fill="#9a9a9a" stroke="#1a1a1a" stroke-width="0.7"/>
<circle cx="369.6" cy="224.6" r="1.55" fill="#fff" stroke="#1a1a1a" stroke-width="0.7"/>
<circle cx="369.6" cy="227.1" r="1.55" fill="#fff" stroke="#1a1a1a" stroke-width="0.7"/>
<circle cx="377.0" cy="227.1" r="1.55" fill="#222" stroke="#1a1a1a" stroke-width="0.7"/>
<circle cx="385.7" cy="223.4" r="1.55" fill="#9a9a9a" stroke="#1a1a1a" stroke-width="0.7"/>
<circle cx="384.3" cy="225.6" r="1.55" fill="#9a9a9a" stroke="#1a1a1a" stroke-width="0.7"/>
<circle cx="387.2" cy="229.3" r="1.55" fill="#fff" stroke="#1a1a1a" stroke-width="0.7"/>
<circle cx="377.0" cy="232.2" r="1.55" fill="#fff" stroke="#1a1a1a" stroke-width="0.7"/>
<circle cx="371.1" cy="234.0" r="1.55" fill="#fff" stroke="#1a1a1a" stroke-width="0.7"/>
<circle cx="356.5" cy="236.6" r="1.55" fill="#9a9a9a" stroke="#1a1a1a" stroke-width="0.7"/>
<circle cx="361.6" cy="240.3" r="1.55" fill="#9a9a9a" stroke="#1a1a1a" stroke-width="0.7"/>
<circle cx="368.2" cy="239.2" r="1.55" fill="#fff" stroke="#1a1a1a" stroke-width="0.7"/>
<circle cx="385.0" cy="237.3" r="1.55" fill="#9a9a9a" stroke="#1a1a1a" stroke-width="0.7"/>
<circle cx="362.3" cy="232.2" r="1.55" fill="#555" stroke="#1a1a1a" stroke-width="0.7"/>
<circle cx="322.3" cy="228.6" r="1.55" fill="#fff" stroke="#1a1a1a" stroke-width="0.7"/>
<circle cx="329.7" cy="227.9" r="1.55" fill="#9a9a9a" stroke="#1a1a1a" stroke-width="0.7"/>
<circle cx="332.1" cy="227.9" r="1.55" fill="#9a9a9a" stroke="#1a1a1a" stroke-width="0.7"/>
<circle cx="344.4" cy="229.1" r="1.55" fill="#9a9a9a" stroke="#1a1a1a" stroke-width="0.7"/>
<circle cx="347.6" cy="229.1" r="1.55" fill="#9a9a9a" stroke="#1a1a1a" stroke-width="0.7"/>
<circle cx="321.5" cy="234.8" r="1.55" fill="#9a9a9a" stroke="#1a1a1a" stroke-width="0.7"/>
<circle cx="324.8" cy="233.2" r="1.55" fill="#9a9a9a" stroke="#1a1a1a" stroke-width="0.7"/>
<circle cx="328.0" cy="232.3" r="1.55" fill="#9a9a9a" stroke="#1a1a1a" stroke-width="0.7"/>
<circle cx="334.6" cy="232.8" r="1.55" fill="#9a9a9a" stroke="#1a1a1a" stroke-width="0.7"/>
<circle cx="338.7" cy="231.5" r="1.55" fill="#9a9a9a" stroke="#1a1a1a" stroke-width="0.7"/>
<circle cx="341.9" cy="232.3" r="1.55" fill="#9a9a9a" stroke="#1a1a1a" stroke-width="0.7"/>
<circle cx="319.9" cy="238.0" r="1.55" fill="#9a9a9a" stroke="#1a1a1a" stroke-width="0.7"/>
<circle cx="322.3" cy="240.5" r="1.55" fill="#9a9a9a" stroke="#1a1a1a" stroke-width="0.7"/>
<circle cx="327.2" cy="238.9" r="1.55" fill="#9a9a9a" stroke="#1a1a1a" stroke-width="0.7"/>
<circle cx="331.3" cy="239.7" r="1.55" fill="#9a9a9a" stroke="#1a1a1a" stroke-width="0.7"/>
<circle cx="338.7" cy="239.7" r="1.55" fill="#222" stroke="#1a1a1a" stroke-width="0.7"/>
<circle cx="343.5" cy="240.5" r="1.55" fill="#9a9a9a" stroke="#1a1a1a" stroke-width="0.7"/>
<circle cx="345.2" cy="241.3" r="1.55" fill="#9a9a9a" stroke="#1a1a1a" stroke-width="0.7"/>
<circle cx="351.7" cy="240.5" r="1.55" fill="#222" stroke="#1a1a1a" stroke-width="0.7"/>
<circle cx="355.0" cy="237.2" r="1.55" fill="#9a9a9a" stroke="#1a1a1a" stroke-width="0.7"/>
<circle cx="356.6" cy="234.8" r="1.55" fill="#9a9a9a" stroke="#1a1a1a" stroke-width="0.7"/>
<circle cx="334.6" cy="251.9" r="1.55" fill="#222" stroke="#1a1a1a" stroke-width="0.7"/>
<circle cx="392.0" cy="222.5" r="1.55" fill="#fff" stroke="#1a1a1a" stroke-width="0.7"/>
<circle cx="398.0" cy="221.0" r="1.55" fill="#fff" stroke="#1a1a1a" stroke-width="0.7"/>
<circle cx="380.0" cy="228.0" r="1.55" fill="#fff" stroke="#1a1a1a" stroke-width="0.7"/>
<line x1="319.2" y1="236.6" x2="400.2" y2="223.6" stroke="#1f9a68" stroke-width="1.1"/>
<line x1="319.2" y1="238.2" x2="377" y2="228.6" stroke="#222" stroke-width="1.1"/>
<line x1="319.2" y1="199.4" x2="319.2" y2="276.4" stroke="#222" stroke-width="1.2"/>
<line x1="319.2" y1="273.1" x2="400.2" y2="273.1" stroke="#222" stroke-width="1.2"/>
<line x1="319.2" y1="199.15000000000003" x2="322.7" y2="199.15000000000003" stroke="#222" stroke-width="1.2"/>
<text x="316.7" y="203.15000000000003" font-size="11.1" text-anchor="end" fill="#1a1a1a">0.15</text>
<line x1="319.2" y1="223.8" x2="322.7" y2="223.8" stroke="#222" stroke-width="1.2"/>
<text x="316.7" y="227.8" font-size="11.1" text-anchor="end" fill="#1a1a1a">0.10</text>
<line x1="319.2" y1="248.45000000000002" x2="322.7" y2="248.45000000000002" stroke="#222" stroke-width="1.2"/>
<text x="316.7" y="252.45000000000002" font-size="11.1" text-anchor="end" fill="#1a1a1a">0.05</text>
<line x1="319.2" y1="273.1" x2="322.7" y2="273.1" stroke="#222" stroke-width="1.2"/>
<text x="316.7" y="277.1" font-size="11.1" text-anchor="end" fill="#1a1a1a">0</text>
<line x1="319.2" y1="211.47500000000002" x2="321.4" y2="211.47500000000002" stroke="#222" stroke-width="1.2"/>
<line x1="319.2" y1="236.12500000000003" x2="321.4" y2="236.12500000000003" stroke="#222" stroke-width="1.2"/>
<line x1="319.2" y1="260.77500000000003" x2="321.4" y2="260.77500000000003" stroke="#222" stroke-width="1.2"/>
<line x1="319.2" y1="273.1" x2="319.2" y2="277.1" stroke="#222" stroke-width="1.2"/>
<text x="319.2" y="288.1" font-size="10.9" text-anchor="middle" fill="#1a1a1a">0</text>
<line x1="353.1" y1="273.1" x2="353.1" y2="277.1" stroke="#222" stroke-width="1.2"/>
<text x="353.1" y="288.1" font-size="10.9" text-anchor="middle" fill="#1a1a1a">50</text>
<line x1="387.0" y1="273.1" x2="387.0" y2="277.1" stroke="#222" stroke-width="1.2"/>
<text x="387.0" y="288.1" font-size="10.9" text-anchor="middle" fill="#1a1a1a">100</text>
<line x1="336.15" y1="273.1" x2="336.15" y2="275.5" stroke="#222" stroke-width="1.2"/>
<line x1="370.05" y1="273.1" x2="370.05" y2="275.5" stroke="#222" stroke-width="1.2"/>
<text x="323.2" y="304.7" font-size="11.0" text-anchor="start" fill="#1a1a1a">24-HC (ng/mL)</text>
<line x1="465.52500000000003" y1="199.6" x2="465.52500000000003" y2="273.1" stroke="#dcdcdc" stroke-width="0.8"/>
<line x1="482.45000000000005" y1="199.6" x2="482.45000000000005" y2="273.1" stroke="#dcdcdc" stroke-width="0.8"/>
<line x1="499.375" y1="199.6" x2="499.375" y2="273.1" stroke="#dcdcdc" stroke-width="0.8"/>
<line x1="516.3000000000001" y1="199.6" x2="516.3000000000001" y2="273.1" stroke="#dcdcdc" stroke-width="0.8"/>
<line x1="448.6" y1="260.90000000000003" x2="530" y2="260.90000000000003" stroke="#dcdcdc" stroke-width="0.8"/>
<line x1="448.6" y1="248.70000000000002" x2="530" y2="248.70000000000002" stroke="#dcdcdc" stroke-width="0.8"/>
<line x1="448.6" y1="236.50000000000003" x2="530" y2="236.50000000000003" stroke="#dcdcdc" stroke-width="0.8"/>
<line x1="448.6" y1="224.3" x2="530" y2="224.3" stroke="#dcdcdc" stroke-width="0.8"/>
<line x1="448.6" y1="212.10000000000002" x2="530" y2="212.10000000000002" stroke="#dcdcdc" stroke-width="0.8"/>
<line x1="448.6" y1="199.90000000000003" x2="530" y2="199.90000000000003" stroke="#dcdcdc" stroke-width="0.8"/>
<clipPath id="c448"><rect x="448.6" y="199.6" width="81.39999999999998" height="73.50000000000003"/></clipPath><g clip-path="url(#c448)">
<path d="M448.60,238.70 L451.99,239.78 L455.38,240.78 L458.78,241.72 L462.17,242.58 L465.56,243.37 L468.95,244.09 L472.34,244.74 L475.73,245.32 L479.12,245.82 L482.52,246.25 L485.91,246.61 L489.30,246.90 L492.69,247.12 L496.08,247.26 L499.48,247.33 L502.87,247.33 L506.26,247.26 L509.65,247.12 L513.04,246.90 L516.43,246.62 L519.83,246.26 L523.22,245.83 L526.61,245.32 L530.00,244.75 L530.00,266.05 L526.61,264.49 L523.22,263.01 L519.83,261.59 L516.43,260.25 L513.04,258.98 L509.65,257.78 L506.26,256.65 L502.87,255.60 L499.48,254.62 L496.08,253.71 L492.69,252.87 L489.30,252.10 L485.91,251.40 L482.52,250.78 L479.12,250.23 L475.73,249.75 L472.34,249.34 L468.95,249.01 L465.56,248.74 L462.17,248.55 L458.78,248.43 L455.38,248.38 L451.99,248.41 L448.60,248.50Z" fill="#2a9d6e" fill-opacity="0.28"/>
<path d="M448.60,226.61 L450.96,228.35 L453.33,229.97 L455.69,231.46 L458.05,232.83 L460.41,234.07 L462.78,235.19 L465.14,236.19 L467.50,237.06 L469.86,237.81 L472.23,238.44 L474.59,238.94 L476.95,239.31 L479.31,239.57 L481.68,239.69 L484.04,239.70 L486.40,239.58 L488.76,239.33 L491.12,238.97 L493.49,238.47 L495.85,237.86 L498.21,237.12 L500.57,236.25 L502.94,235.27 L505.30,234.15 L505.30,268.85 L502.94,266.38 L500.57,264.03 L498.21,261.81 L495.85,259.71 L493.49,257.73 L491.12,255.88 L488.76,254.16 L486.40,252.56 L484.04,251.08 L481.68,249.72 L479.31,248.49 L476.95,247.39 L474.59,246.40 L472.23,245.55 L469.86,244.81 L467.50,244.20 L465.14,243.72 L462.78,243.36 L460.41,243.12 L458.05,243.00 L455.69,243.01 L453.33,243.15 L450.96,243.41 L448.60,243.79Z" fill="#9a9a9a" fill-opacity="0.22"/>
</g>
<circle cx="453.8" cy="211.3" r="1.55" fill="#222" stroke="#1a1a1a" stroke-width="0.7"/>
<circle cx="457.1" cy="229.5" r="1.55" fill="#222" stroke="#1a1a1a" stroke-width="0.7"/>
<circle cx="457.9" cy="230.5" r="1.55" fill="#222" stroke="#1a1a1a" stroke-width="0.7"/>
<circle cx="461.2" cy="234.1" r="1.55" fill="#222" stroke="#1a1a1a" stroke-width="0.7"/>
<circle cx="471.8" cy="228.4" r="1.55" fill="#222" stroke="#1a1a1a" stroke-width="0.7"/>
<circle cx="473.4" cy="228.4" r="1.55" fill="#222" stroke="#1a1a1a" stroke-width="0.7"/>
<circle cx="475.0" cy="228.4" r="1.55" fill="#222" stroke="#1a1a1a" stroke-width="0.7"/>
<circle cx="472.6" cy="233.8" r="1.55" fill="#222" stroke="#1a1a1a" stroke-width="0.7"/>
<circle cx="477.5" cy="232.1" r="1.55" fill="#9a9a9a" stroke="#1a1a1a" stroke-width="0.7"/>
<circle cx="479.1" cy="234.1" r="1.55" fill="#9a9a9a" stroke="#1a1a1a" stroke-width="0.7"/>
<circle cx="481.5" cy="234.1" r="1.55" fill="#fff" stroke="#1a1a1a" stroke-width="0.7"/>
<circle cx="484.8" cy="234.1" r="1.55" fill="#fff" stroke="#1a1a1a" stroke-width="0.7"/>
<circle cx="486.4" cy="226.0" r="1.55" fill="#fff" stroke="#1a1a1a" stroke-width="0.7"/>
<circle cx="471.8" cy="237.7" r="1.55" fill="#fff" stroke="#1a1a1a" stroke-width="0.7"/>
<circle cx="476.6" cy="237.7" r="1.55" fill="#fff" stroke="#1a1a1a" stroke-width="0.7"/>
<circle cx="482.3" cy="238.2" r="1.55" fill="#fff" stroke="#1a1a1a" stroke-width="0.7"/>
<circle cx="449.8" cy="234.9" r="1.55" fill="#222" stroke="#1a1a1a" stroke-width="0.7"/>
<circle cx="451.4" cy="238.6" r="1.55" fill="#222" stroke="#1a1a1a" stroke-width="0.7"/>
<circle cx="455.5" cy="238.6" r="1.55" fill="#222" stroke="#1a1a1a" stroke-width="0.7"/>
<circle cx="450.6" cy="241.4" r="1.55" fill="#9a9a9a" stroke="#1a1a1a" stroke-width="0.7"/>
<circle cx="458.7" cy="242.2" r="1.55" fill="#555" stroke="#1a1a1a" stroke-width="0.7"/>
<circle cx="463.6" cy="242.2" r="1.55" fill="#222" stroke="#1a1a1a" stroke-width="0.7"/>
<circle cx="470.9" cy="243.0" r="1.55" fill="#222" stroke="#1a1a1a" stroke-width="0.7"/>
<circle cx="480.7" cy="243.0" r="1.55" fill="#222" stroke="#1a1a1a" stroke-width="0.7"/>
<circle cx="448.7" cy="235.9" r="1.55" fill="#222" stroke="#1a1a1a" stroke-width="0.7"/>
<circle cx="451.6" cy="238.8" r="1.55" fill="#222" stroke="#1a1a1a" stroke-width="0.7"/>
<circle cx="453.8" cy="238.1" r="1.55" fill="#222" stroke="#1a1a1a" stroke-width="0.7"/>
<circle cx="456.0" cy="238.1" r="1.55" fill="#222" stroke="#1a1a1a" stroke-width="0.7"/>
<circle cx="461.9" cy="234.4" r="1.55" fill="#222" stroke="#1a1a1a" stroke-width="0.7"/>
<circle cx="463.3" cy="241.4" r="1.55" fill="#222" stroke="#1a1a1a" stroke-width="0.7"/>
<circle cx="450.9" cy="240.3" r="1.55" fill="#9a9a9a" stroke="#1a1a1a" stroke-width="0.7"/>
<circle cx="450.9" cy="243.9" r="1.55" fill="#9a9a9a" stroke="#1a1a1a" stroke-width="0.7"/>
<circle cx="450.9" cy="249.1" r="1.55" fill="#fff" stroke="#1a1a1a" stroke-width="0.7"/>
<circle cx="455.3" cy="246.9" r="1.55" fill="#555" stroke="#1a1a1a" stroke-width="0.7"/>
<circle cx="459.7" cy="246.1" r="1.55" fill="#fff" stroke="#1a1a1a" stroke-width="0.7"/>
<circle cx="470.7" cy="243.2" r="1.55" fill="#222" stroke="#1a1a1a" stroke-width="0.7"/>
<circle cx="480.2" cy="243.9" r="1.55" fill="#222" stroke="#1a1a1a" stroke-width="0.7"/>
<circle cx="469.2" cy="250.5" r="1.55" fill="#555" stroke="#1a1a1a" stroke-width="0.7"/>
<circle cx="472.1" cy="252.0" r="1.55" fill="#222" stroke="#1a1a1a" stroke-width="0.7"/>
<circle cx="473.6" cy="253.5" r="1.55" fill="#222" stroke="#1a1a1a" stroke-width="0.7"/>
<circle cx="476.5" cy="252.0" r="1.55" fill="#fff" stroke="#1a1a1a" stroke-width="0.7"/>
<circle cx="477.3" cy="254.9" r="1.55" fill="#fff" stroke="#1a1a1a" stroke-width="0.7"/>
<circle cx="474.3" cy="256.4" r="1.55" fill="#9a9a9a" stroke="#1a1a1a" stroke-width="0.7"/>
<circle cx="458.9" cy="254.9" r="1.55" fill="#9a9a9a" stroke="#1a1a1a" stroke-width="0.7"/>
<circle cx="461.1" cy="255.7" r="1.55" fill="#9a9a9a" stroke="#1a1a1a" stroke-width="0.7"/>
<circle cx="463.3" cy="257.1" r="1.55" fill="#9a9a9a" stroke="#1a1a1a" stroke-width="0.7"/>
<circle cx="467.0" cy="255.7" r="1.55" fill="#fff" stroke="#1a1a1a" stroke-width="0.7"/>
<circle cx="473.6" cy="258.6" r="1.55" fill="#222" stroke="#1a1a1a" stroke-width="0.7"/>
<circle cx="472.9" cy="261.5" r="1.55" fill="#222" stroke="#1a1a1a" stroke-width="0.7"/>
<circle cx="461.9" cy="261.5" r="1.55" fill="#fff" stroke="#1a1a1a" stroke-width="0.7"/>
<circle cx="467.7" cy="260.1" r="1.55" fill="#fff" stroke="#1a1a1a" stroke-width="0.7"/>
<circle cx="467.7" cy="261.5" r="1.55" fill="#fff" stroke="#1a1a1a" stroke-width="0.7"/>
<circle cx="463.3" cy="266.7" r="1.55" fill="#222" stroke="#1a1a1a" stroke-width="0.7"/>
<circle cx="483.9" cy="254.2" r="1.55" fill="#fff" stroke="#1a1a1a" stroke-width="0.7"/>
<circle cx="485.3" cy="258.6" r="1.55" fill="#fff" stroke="#1a1a1a" stroke-width="0.7"/>
<circle cx="478.7" cy="250.5" r="1.55" fill="#9a9a9a" stroke="#1a1a1a" stroke-width="0.7"/>
<circle cx="471.4" cy="249.1" r="1.55" fill="#9a9a9a" stroke="#1a1a1a" stroke-width="0.7"/>
<circle cx="478.7" cy="233.7" r="1.55" fill="#9a9a9a" stroke="#1a1a1a" stroke-width="0.7"/>
<circle cx="483.1" cy="235.9" r="1.55" fill="#fff" stroke="#1a1a1a" stroke-width="0.7"/>
<circle cx="485.8" cy="226.5" r="1.55" fill="#9a9a9a" stroke="#1a1a1a" stroke-width="0.7"/>
<circle cx="485.8" cy="235.4" r="1.55" fill="#fff" stroke="#1a1a1a" stroke-width="0.7"/>
<circle cx="498.8" cy="237.9" r="1.55" fill="#fff" stroke="#1a1a1a" stroke-width="0.7"/>
<circle cx="514.3" cy="240.3" r="1.55" fill="#9a9a9a" stroke="#1a1a1a" stroke-width="0.7"/>
<circle cx="500.4" cy="246.0" r="1.55" fill="#fff" stroke="#1a1a1a" stroke-width="0.7"/>
<circle cx="516.7" cy="247.6" r="1.55" fill="#fff" stroke="#1a1a1a" stroke-width="0.7"/>
<circle cx="491.5" cy="247.6" r="1.55" fill="#555" stroke="#1a1a1a" stroke-width="0.7"/>
<circle cx="495.6" cy="249.3" r="1.55" fill="#9a9a9a" stroke="#1a1a1a" stroke-width="0.7"/>
<circle cx="498.8" cy="252.5" r="1.55" fill="#9a9a9a" stroke="#1a1a1a" stroke-width="0.7"/>
<circle cx="501.3" cy="254.1" r="1.55" fill="#555" stroke="#1a1a1a" stroke-width="0.7"/>
<circle cx="506.1" cy="251.7" r="1.55" fill="#9a9a9a" stroke="#1a1a1a" stroke-width="0.7"/>
<circle cx="497.2" cy="255.0" r="1.55" fill="#fff" stroke="#1a1a1a" stroke-width="0.7"/>
<circle cx="493.9" cy="256.6" r="1.55" fill="#555" stroke="#1a1a1a" stroke-width="0.7"/>
<circle cx="492.3" cy="259.0" r="1.55" fill="#222" stroke="#1a1a1a" stroke-width="0.7"/>
<circle cx="486.6" cy="259.0" r="1.55" fill="#fff" stroke="#1a1a1a" stroke-width="0.7"/>
<circle cx="505.3" cy="258.2" r="1.55" fill="#222" stroke="#1a1a1a" stroke-width="0.7"/>
<circle cx="506.1" cy="257.4" r="1.55" fill="#222" stroke="#1a1a1a" stroke-width="0.7"/>
<circle cx="515.1" cy="258.7" r="1.55" fill="#fff" stroke="#1a1a1a" stroke-width="0.7"/>
<circle cx="513.5" cy="261.0" r="1.55" fill="#fff" stroke="#1a1a1a" stroke-width="0.7"/>
<circle cx="523.2" cy="257.4" r="1.55" fill="#fff" stroke="#1a1a1a" stroke-width="0.7"/>
<circle cx="487.4" cy="254.1" r="1.55" fill="#9a9a9a" stroke="#1a1a1a" stroke-width="0.7"/>
<line x1="448.6" y1="243.6" x2="530" y2="255.4" stroke="#1f9a68" stroke-width="1.1"/>
<line x1="448.6" y1="235.2" x2="505.3" y2="251.5" stroke="#222" stroke-width="1.1"/>
<line x1="448.6" y1="199.6" x2="448.6" y2="276.4" stroke="#222" stroke-width="1.2"/>
<line x1="448.6" y1="273.1" x2="530" y2="273.1" stroke="#222" stroke-width="1.2"/>
<line x1="448.6" y1="199.90000000000003" x2="452.1" y2="199.90000000000003" stroke="#222" stroke-width="1.2"/>
<text x="446.1" y="203.90000000000003" font-size="11.1" text-anchor="end" fill="#1a1a1a">6</text>
<line x1="448.6" y1="224.3" x2="452.1" y2="224.3" stroke="#222" stroke-width="1.2"/>
<text x="446.1" y="228.3" font-size="11.1" text-anchor="end" fill="#1a1a1a">4</text>
<line x1="448.6" y1="248.70000000000002" x2="452.1" y2="248.70000000000002" stroke="#222" stroke-width="1.2"/>
<text x="446.1" y="252.70000000000002" font-size="11.1" text-anchor="end" fill="#1a1a1a">2</text>
<line x1="448.6" y1="273.1" x2="452.1" y2="273.1" stroke="#222" stroke-width="1.2"/>
<text x="446.1" y="277.1" font-size="11.1" text-anchor="end" fill="#1a1a1a">0</text>
<line x1="448.6" y1="212.10000000000002" x2="450.8" y2="212.10000000000002" stroke="#222" stroke-width="1.2"/>
<line x1="448.6" y1="236.50000000000003" x2="450.8" y2="236.50000000000003" stroke="#222" stroke-width="1.2"/>
<line x1="448.6" y1="260.90000000000003" x2="450.8" y2="260.90000000000003" stroke="#222" stroke-width="1.2"/>
<line x1="448.6" y1="273.1" x2="448.6" y2="277.1" stroke="#222" stroke-width="1.2"/>
<text x="448.6" y="288.1" font-size="10.9" text-anchor="middle" fill="#1a1a1a">0</text>
<line x1="482.45000000000005" y1="273.1" x2="482.45000000000005" y2="277.1" stroke="#222" stroke-width="1.2"/>
<text x="482.45000000000005" y="288.1" font-size="10.9" text-anchor="middle" fill="#1a1a1a">50</text>
<line x1="516.3000000000001" y1="273.1" x2="516.3000000000001" y2="277.1" stroke="#222" stroke-width="1.2"/>
<text x="516.3000000000001" y="288.1" font-size="10.9" text-anchor="middle" fill="#1a1a1a">100</text>
<line x1="465.52500000000003" y1="273.1" x2="465.52500000000003" y2="275.5" stroke="#222" stroke-width="1.2"/>
<line x1="499.375" y1="273.1" x2="499.375" y2="275.5" stroke="#222" stroke-width="1.2"/>
<text x="452.2" y="304.7" font-size="11.0" text-anchor="start" fill="#1a1a1a">24-HC (ng/mL)</text>
<line x1="603.35" y1="199.2" x2="603.35" y2="273.1" stroke="#dcdcdc" stroke-width="0.8"/>
<line x1="620.5" y1="199.2" x2="620.5" y2="273.1" stroke="#dcdcdc" stroke-width="0.8"/>
<line x1="637.6500000000001" y1="199.2" x2="637.6500000000001" y2="273.1" stroke="#dcdcdc" stroke-width="0.8"/>
<line x1="654.8000000000001" y1="199.2" x2="654.8000000000001" y2="273.1" stroke="#dcdcdc" stroke-width="0.8"/>
<line x1="586.2" y1="260.90000000000003" x2="667.8" y2="260.90000000000003" stroke="#dcdcdc" stroke-width="0.8"/>
<line x1="586.2" y1="248.70000000000002" x2="667.8" y2="248.70000000000002" stroke="#dcdcdc" stroke-width="0.8"/>
<line x1="586.2" y1="236.50000000000003" x2="667.8" y2="236.50000000000003" stroke="#dcdcdc" stroke-width="0.8"/>
<line x1="586.2" y1="224.3" x2="667.8" y2="224.3" stroke="#dcdcdc" stroke-width="0.8"/>
<line x1="586.2" y1="212.10000000000002" x2="667.8" y2="212.10000000000002" stroke="#dcdcdc" stroke-width="0.8"/>
<line x1="586.2" y1="199.90000000000003" x2="667.8" y2="199.90000000000003" stroke="#dcdcdc" stroke-width="0.8"/>
<clipPath id="c586"><rect x="586.2" y="199.2" width="81.59999999999991" height="73.90000000000003"/></clipPath><g clip-path="url(#c586)">
<path d="M586.20,238.45 L589.01,240.26 L591.83,241.99 L594.64,243.65 L597.45,245.24 L600.26,246.75 L603.08,248.18 L605.89,249.54 L608.70,250.83 L611.51,252.04 L614.33,253.17 L617.14,254.23 L619.95,255.22 L622.76,256.13 L625.58,256.96 L628.39,257.72 L631.20,258.41 L634.01,259.02 L636.83,259.56 L639.64,260.02 L642.45,260.40 L645.26,260.71 L648.08,260.95 L650.89,261.11 L653.70,261.20 L653.70,283.66 L650.89,281.43 L648.08,279.27 L645.26,277.19 L642.45,275.18 L639.64,273.25 L636.83,271.39 L634.01,269.61 L631.20,267.90 L628.39,266.27 L625.58,264.71 L622.76,263.22 L619.95,261.81 L617.14,260.48 L614.33,259.22 L611.51,258.04 L608.70,256.93 L605.89,255.89 L603.08,254.93 L600.26,254.05 L597.45,253.24 L594.64,252.51 L591.83,251.85 L589.01,251.26 L586.20,250.75Z" fill="#2a9d6e" fill-opacity="0.28"/>
<path d="M586.20,209.02 L588.61,211.43 L591.02,213.80 L593.43,216.16 L595.83,218.49 L598.24,220.79 L600.65,223.06 L603.06,225.31 L605.47,227.54 L607.88,229.74 L610.28,231.91 L612.69,234.06 L615.10,236.18 L617.51,238.27 L619.92,240.34 L622.33,242.39 L624.73,244.41 L627.14,246.40 L629.55,248.37 L631.96,250.31 L634.37,252.22 L636.77,254.11 L639.18,255.98 L641.59,257.81 L644.00,259.63 L644.00,286.18 L641.59,283.70 L639.18,281.26 L636.77,278.84 L634.37,276.45 L631.96,274.08 L629.55,271.73 L627.14,269.42 L624.73,267.13 L622.33,264.86 L619.92,262.62 L617.51,260.41 L615.10,258.22 L612.69,256.06 L610.28,253.92 L607.88,251.81 L605.47,249.73 L603.06,247.67 L600.65,245.64 L598.24,243.63 L595.83,241.65 L593.43,239.69 L591.02,237.76 L588.61,235.86 L586.20,233.98Z" fill="#9a9a9a" fill-opacity="0.2"/>
</g>
<circle cx="586.7" cy="209.6" r="1.55" fill="#222" stroke="#1a1a1a" stroke-width="0.7"/>
<circle cx="591.8" cy="205.5" r="1.55" fill="#222" stroke="#1a1a1a" stroke-width="0.7"/>
<circle cx="591.8" cy="208.9" r="1.55" fill="#222" stroke="#1a1a1a" stroke-width="0.7"/>
<circle cx="594.0" cy="210.8" r="1.55" fill="#222" stroke="#1a1a1a" stroke-width="0.7"/>
<circle cx="588.9" cy="214.0" r="1.55" fill="#222" stroke="#1a1a1a" stroke-width="0.7"/>
<circle cx="601.3" cy="209.6" r="1.55" fill="#222" stroke="#1a1a1a" stroke-width="0.7"/>
<circle cx="587.4" cy="220.2" r="1.55" fill="#222" stroke="#1a1a1a" stroke-width="0.7"/>
<circle cx="607.2" cy="221.4" r="1.55" fill="#222" stroke="#1a1a1a" stroke-width="0.7"/>
<circle cx="610.1" cy="222.1" r="1.55" fill="#222" stroke="#1a1a1a" stroke-width="0.7"/>
<circle cx="610.8" cy="223.6" r="1.55" fill="#222" stroke="#1a1a1a" stroke-width="0.7"/>
<circle cx="613.0" cy="226.5" r="1.55" fill="#222" stroke="#1a1a1a" stroke-width="0.7"/>
<circle cx="618.9" cy="228.4" r="1.55" fill="#222" stroke="#1a1a1a" stroke-width="0.7"/>
<circle cx="593.2" cy="234.8" r="1.55" fill="#222" stroke="#1a1a1a" stroke-width="0.7"/>
<circle cx="595.4" cy="233.8" r="1.55" fill="#222" stroke="#1a1a1a" stroke-width="0.7"/>
<circle cx="596.9" cy="234.5" r="1.55" fill="#222" stroke="#1a1a1a" stroke-width="0.7"/>
<circle cx="601.3" cy="238.6" r="1.55" fill="#222" stroke="#1a1a1a" stroke-width="0.7"/>
<circle cx="593.5" cy="235.0" r="1.55" fill="#222" stroke="#1a1a1a" stroke-width="0.7"/>
<circle cx="597.0" cy="235.0" r="1.55" fill="#222" stroke="#1a1a1a" stroke-width="0.7"/>
<circle cx="601.2" cy="239.9" r="1.55" fill="#222" stroke="#1a1a1a" stroke-width="0.7"/>
<circle cx="615.9" cy="240.9" r="1.55" fill="#9a9a9a" stroke="#1a1a1a" stroke-width="0.7"/>
<circle cx="609.6" cy="247.9" r="1.55" fill="#fff" stroke="#1a1a1a" stroke-width="0.7"/>
<circle cx="611.7" cy="249.0" r="1.55" fill="#fff" stroke="#1a1a1a" stroke-width="0.7"/>
<circle cx="590.7" cy="251.1" r="1.55" fill="#fff" stroke="#1a1a1a" stroke-width="0.7"/>
<circle cx="595.6" cy="252.9" r="1.55" fill="#222" stroke="#1a1a1a" stroke-width="0.7"/>
<circle cx="599.8" cy="256.0" r="1.55" fill="#222" stroke="#1a1a1a" stroke-width="0.7"/>
<circle cx="604.0" cy="259.9" r="1.55" fill="#9a9a9a" stroke="#1a1a1a" stroke-width="0.7"/>
<circle cx="608.9" cy="259.5" r="1.55" fill="#222" stroke="#1a1a1a" stroke-width="0.7"/>
<circle cx="610.3" cy="263.7" r="1.55" fill="#555" stroke="#1a1a1a" stroke-width="0.7"/>
<circle cx="612.4" cy="263.7" r="1.55" fill="#222" stroke="#1a1a1a" stroke-width="0.7"/>
<circle cx="614.5" cy="263.0" r="1.55" fill="#9a9a9a" stroke="#1a1a1a" stroke-width="0.7"/>
<circle cx="617.3" cy="262.3" r="1.55" fill="#fff" stroke="#1a1a1a" stroke-width="0.7"/>
<circle cx="620.1" cy="263.7" r="1.55" fill="#9a9a9a" stroke="#1a1a1a" stroke-width="0.7"/>
<circle cx="622.2" cy="261.6" r="1.55" fill="#9a9a9a" stroke="#1a1a1a" stroke-width="0.7"/>
<circle cx="589.3" cy="267.9" r="1.55" fill="#fff" stroke="#1a1a1a" stroke-width="0.7"/>
<circle cx="596.3" cy="266.5" r="1.55" fill="#9a9a9a" stroke="#1a1a1a" stroke-width="0.7"/>
<circle cx="598.4" cy="267.9" r="1.55" fill="#9a9a9a" stroke="#1a1a1a" stroke-width="0.7"/>
<circle cx="601.2" cy="268.6" r="1.55" fill="#9a9a9a" stroke="#1a1a1a" stroke-width="0.7"/>
<circle cx="604.7" cy="267.9" r="1.55" fill="#222" stroke="#1a1a1a" stroke-width="0.7"/>
<circle cx="606.1" cy="270.7" r="1.55" fill="#222" stroke="#1a1a1a" stroke-width="0.7"/>
<circle cx="611.7" cy="268.6" r="1.55" fill="#222" stroke="#1a1a1a" stroke-width="0.7"/>
<circle cx="613.1" cy="270.0" r="1.55" fill="#222" stroke="#1a1a1a" stroke-width="0.7"/>
<circle cx="615.2" cy="268.6" r="1.55" fill="#9a9a9a" stroke="#1a1a1a" stroke-width="0.7"/>
<circle cx="620.8" cy="269.3" r="1.55" fill="#fff" stroke="#1a1a1a" stroke-width="0.7"/>
<circle cx="623.6" cy="268.6" r="1.55" fill="#9a9a9a" stroke="#1a1a1a" stroke-width="0.7"/>
<circle cx="626.4" cy="268.6" r="1.55" fill="#9a9a9a" stroke="#1a1a1a" stroke-width="0.7"/>
<circle cx="628.5" cy="258.8" r="1.55" fill="#555" stroke="#1a1a1a" stroke-width="0.7"/>
<circle cx="629.2" cy="268.6" r="1.55" fill="#9a9a9a" stroke="#1a1a1a" stroke-width="0.7"/>
<circle cx="599.8" cy="272.0" r="1.55" fill="#222" stroke="#1a1a1a" stroke-width="0.7"/>
<circle cx="630.1" cy="258.1" r="1.55" fill="#222" stroke="#1a1a1a" stroke-width="0.7"/>
<circle cx="636.3" cy="259.1" r="1.55" fill="#fff" stroke="#1a1a1a" stroke-width="0.7"/>
<circle cx="629.1" cy="264.3" r="1.55" fill="#9a9a9a" stroke="#1a1a1a" stroke-width="0.7"/>
<circle cx="638.3" cy="263.3" r="1.55" fill="#fff" stroke="#1a1a1a" stroke-width="0.7"/>
<circle cx="644.5" cy="265.3" r="1.55" fill="#222" stroke="#1a1a1a" stroke-width="0.7"/>
<circle cx="652.7" cy="268.0" r="1.55" fill="#555" stroke="#1a1a1a" stroke-width="0.7"/>
<circle cx="654.8" cy="259.8" r="1.55" fill="#fff" stroke="#1a1a1a" stroke-width="0.7"/>
<circle cx="662.0" cy="271.5" r="1.55" fill="#fff" stroke="#1a1a1a" stroke-width="0.7"/>
<circle cx="627.0" cy="268.0" r="1.55" fill="#9a9a9a" stroke="#1a1a1a" stroke-width="0.7"/>
<circle cx="631.2" cy="268.8" r="1.55" fill="#9a9a9a" stroke="#1a1a1a" stroke-width="0.7"/>
<circle cx="634.2" cy="268.4" r="1.55" fill="#9a9a9a" stroke="#1a1a1a" stroke-width="0.7"/>
<circle cx="637.3" cy="269.4" r="1.55" fill="#9a9a9a" stroke="#1a1a1a" stroke-width="0.7"/>
<circle cx="585.6" cy="219.4" r="1.55" fill="#222" stroke="#1a1a1a" stroke-width="0.7"/>
<line x1="586.2" y1="244.6" x2="653.7" y2="272.4" stroke="#1f9a68" stroke-width="1.1"/>
<line x1="586.2" y1="221.5" x2="642.2" y2="271.3" stroke="#222" stroke-width="1.1"/>
<line x1="586.2" y1="199.2" x2="586.2" y2="276.4" stroke="#222" stroke-width="1.2"/>
<line x1="586.2" y1="273.1" x2="667.8" y2="273.1" stroke="#222" stroke-width="1.2"/>
<line x1="586.2" y1="199.90000000000003" x2="589.7" y2="199.90000000000003" stroke="#222" stroke-width="1.2"/>
<text x="583.7" y="203.90000000000003" font-size="11.1" text-anchor="end" fill="#1a1a1a">1.5</text>
<line x1="586.2" y1="224.3" x2="589.7" y2="224.3" stroke="#222" stroke-width="1.2"/>
<text x="583.7" y="228.3" font-size="11.1" text-anchor="end" fill="#1a1a1a">1.0</text>
<line x1="586.2" y1="248.70000000000002" x2="589.7" y2="248.70000000000002" stroke="#222" stroke-width="1.2"/>
<text x="583.7" y="252.70000000000002" font-size="11.1" text-anchor="end" fill="#1a1a1a">0.5</text>
<line x1="586.2" y1="273.1" x2="589.7" y2="273.1" stroke="#222" stroke-width="1.2"/>
<text x="583.7" y="277.1" font-size="11.1" text-anchor="end" fill="#1a1a1a">0.0</text>
<line x1="586.2" y1="212.10000000000002" x2="588.4000000000001" y2="212.10000000000002" stroke="#222" stroke-width="1.2"/>
<line x1="586.2" y1="236.50000000000003" x2="588.4000000000001" y2="236.50000000000003" stroke="#222" stroke-width="1.2"/>
<line x1="586.2" y1="260.90000000000003" x2="588.4000000000001" y2="260.90000000000003" stroke="#222" stroke-width="1.2"/>
<line x1="586.2" y1="273.1" x2="586.2" y2="277.1" stroke="#222" stroke-width="1.2"/>
<text x="586.2" y="288.1" font-size="10.9" text-anchor="middle" fill="#1a1a1a">0</text>
<line x1="620.5" y1="273.1" x2="620.5" y2="277.1" stroke="#222" stroke-width="1.2"/>
<text x="620.5" y="288.1" font-size="10.9" text-anchor="middle" fill="#1a1a1a">50</text>
<line x1="654.8000000000001" y1="273.1" x2="654.8000000000001" y2="277.1" stroke="#222" stroke-width="1.2"/>
<text x="654.8000000000001" y="288.1" font-size="10.9" text-anchor="middle" fill="#1a1a1a">100</text>
<line x1="603.35" y1="273.1" x2="603.35" y2="275.5" stroke="#222" stroke-width="1.2"/>
<line x1="637.6500000000001" y1="273.1" x2="637.6500000000001" y2="275.5" stroke="#222" stroke-width="1.2"/>
<text x="590.4" y="304.7" font-size="11.0" text-anchor="start" fill="#1a1a1a">24-HC (ng/mL)</text>
<text x="14.2" y="185.8" font-size="9.1" text-anchor="start" fill="#2a9d6e">Overall: <tspan font-style="italic">P</tspan> = 0.00002, <tspan font-style="italic">R</tspan> = 0.47</text>
<text x="153.1" y="185.8" font-size="9.1" text-anchor="start" fill="#2a9d6e">Overall: <tspan font-style="italic">P</tspan> = 0.000031, <tspan font-style="italic">R</tspan> = 0.50</text>
<text x="289.4" y="185.8" font-size="9.1" text-anchor="start" fill="#2a9d6e">Overall: <tspan font-style="italic">P</tspan> = 0.00002, <tspan font-style="italic">R</tspan> = 0.44</text>
<text x="427.6" y="185.8" font-size="9.1" text-anchor="start" fill="#2a9d6e">Overall: <tspan font-style="italic">P</tspan> = 0.0172, R = -0.26</text>
<text x="558.7" y="185.8" font-size="9.1" text-anchor="start" fill="#2a9d6e">Overall: <tspan font-style="italic">P</tspan> = 0.0003, <tspan font-style="italic">R</tspan> = -0.448</text>
<text x="43" y="209.2" font-size="9.1" text-anchor="start" fill="#1a1a1a"><tspan font-style="italic">P</tspan> = 0.02, <tspan font-style="italic">R</tspan> = 0.44</text>
<text x="43" y="199.6" font-size="9.1" text-anchor="start" fill="#1a1a1a">AD:</text>
<text x="189.6" y="209.2" font-size="9.1" text-anchor="start" fill="#1a1a1a"><tspan font-style="italic">P</tspan> &lt; 0.01, <tspan font-style="italic">R</tspan> = 0.58</text>
<text x="189.6" y="199.6" font-size="9.1" text-anchor="start" fill="#1a1a1a">AD:</text>
<text x="463.3" y="209.2" font-size="9.1" text-anchor="start" fill="#1a1a1a"><tspan font-style="italic">P</tspan> = 0.03, <tspan font-style="italic">R</tspan> = -0.47</text>
<text x="463.3" y="199.6" font-size="9.1" text-anchor="start" fill="#1a1a1a">AD:</text>
<text x="607.2" y="209.2" font-size="9.1" text-anchor="start" fill="#1a1a1a"><tspan font-style="italic">P</tspan> &lt; 0.01, <tspan font-style="italic">R</tspan> = -0.60</text>
<text x="607.2" y="199.6" font-size="9.1" text-anchor="start" fill="#1a1a1a">AD:</text>
<text x="325" y="265.8" font-size="9.1" text-anchor="start" fill="#1a1a1a">AD: <tspan font-style="italic">P</tspan> &lt; 0.01, <tspan font-style="italic">R</tspan> = 0.54</text>
<text x="10.4" y="265.9" font-size="10.8" text-anchor="start" fill="#1a1a1a" transform="rotate(-90 10.4 265.9)">MMSE score</text>
<text x="158.1" y="266.2" font-size="11.0" text-anchor="start" fill="#1a1a1a" transform="rotate(-90 158.1 266.2)">MoCA score</text>
<text x="290.2" y="275" font-size="10.9" fill="#1a1a1a" transform="rotate(-90 290.4 275)">Aβ<tspan font-size="8" dy="2">42</tspan><tspan dy="-2"> / Aβ</tspan><tspan font-size="8" dy="2">40</tspan><tspan dy="-2"> ratio</tspan></text>
<text x="433.8" y="274.4" font-size="10.7" text-anchor="start" fill="#1a1a1a" transform="rotate(-90 433.8 274.4)">p-tau181 (pg/mL)</text>
<text x="564.2" y="274.6" font-size="10.7" text-anchor="start" fill="#1a1a1a" transform="rotate(-90 564.2 274.6)">p-tau217 (pg/mL)</text>
</svg></body></html>
